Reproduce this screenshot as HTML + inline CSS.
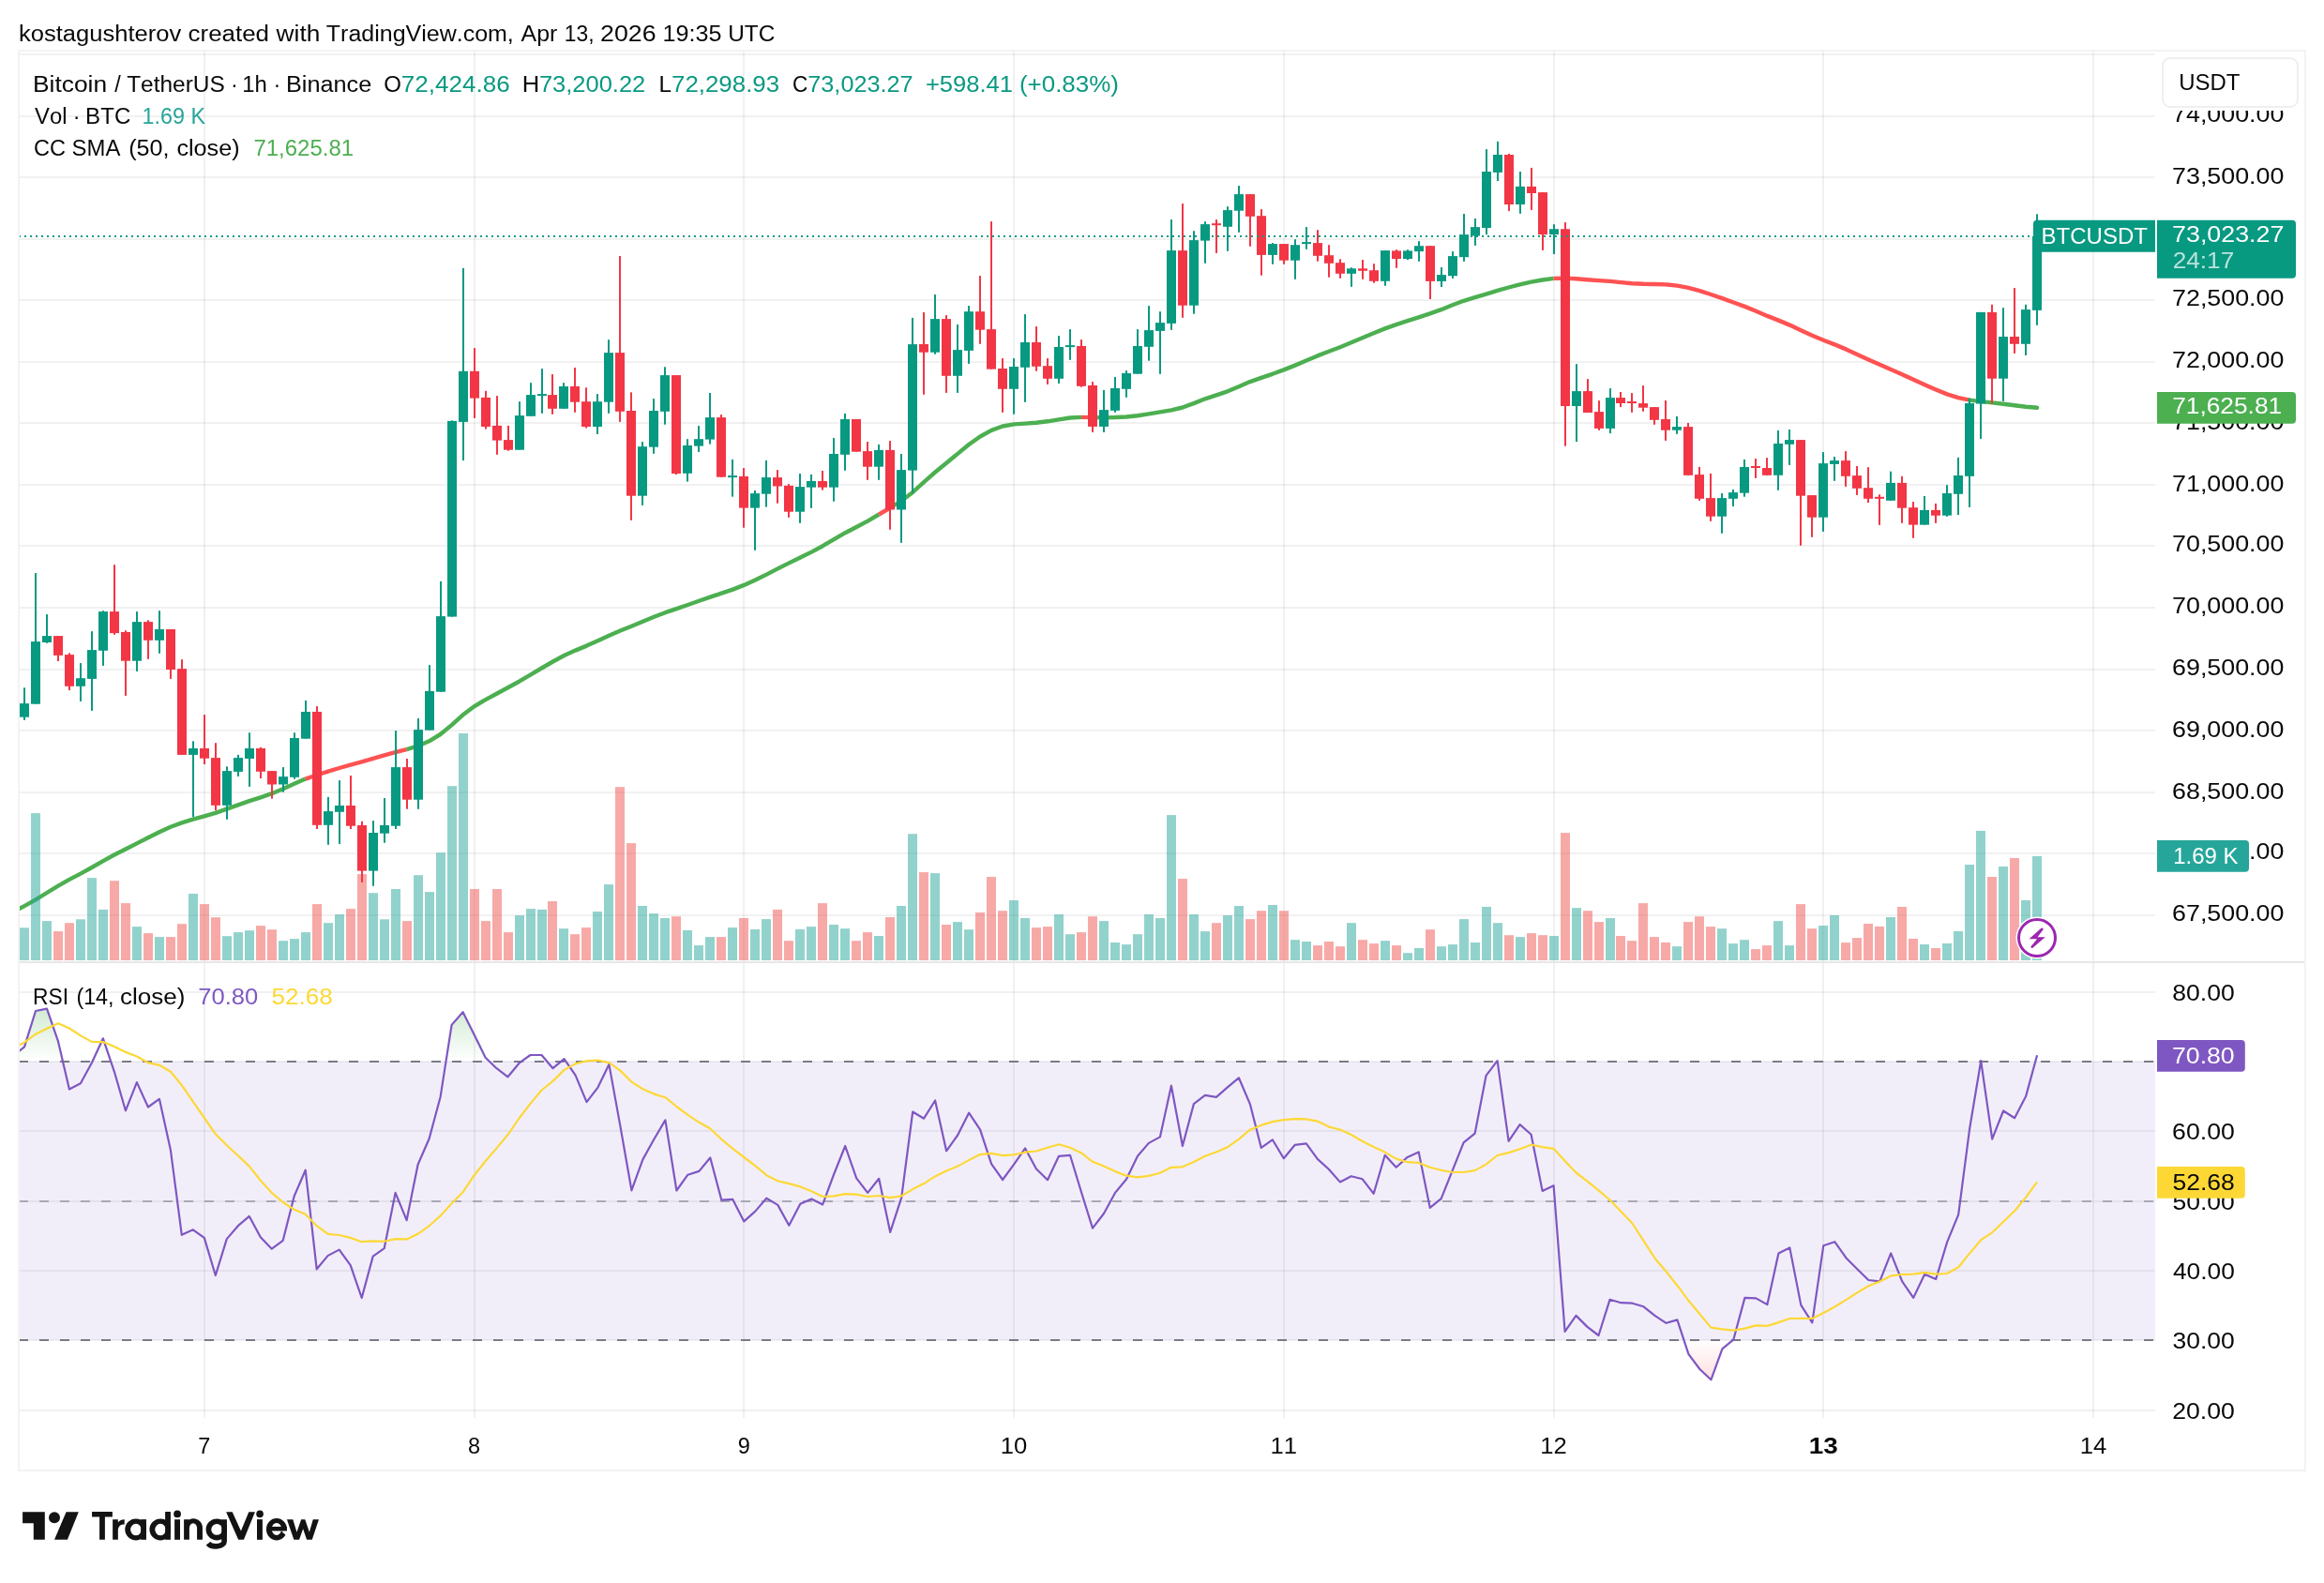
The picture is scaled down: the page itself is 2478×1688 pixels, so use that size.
<!DOCTYPE html><html><head><meta charset="utf-8"><title>BTCUSDT chart</title><style>html,body{margin:0;padding:0;background:#fff}body{width:2478px;height:1688px;overflow:hidden}</style></head><body><div style="will-change:transform;width:2478px;height:1688px"><svg width="2478" height="1688" viewBox="0 0 2478 1688" style="display:block">
<defs>
<linearGradient id="gob" gradientUnits="userSpaceOnUse" x1="0" y1="909.4" x2="0" y2="1132"><stop offset="0" stop-color="#4caf50" stop-opacity="1"/><stop offset="1" stop-color="#4caf50" stop-opacity="0"/></linearGradient>
<linearGradient id="gos" gradientUnits="userSpaceOnUse" x1="0" y1="1429" x2="0" y2="1652"><stop offset="0" stop-color="#ff5252" stop-opacity="0"/><stop offset="1" stop-color="#ff5252" stop-opacity="1"/></linearGradient>
<clipPath id="cpMain"><rect x="20" y="55" width="2278" height="970"/></clipPath>
<clipPath id="cpRsi"><rect x="20" y="1027" width="2278" height="485"/></clipPath>
<clipPath id="cpOB"><rect x="20" y="1027" width="2278" height="105"/></clipPath>
<clipPath id="cpOS"><rect x="20" y="1429" width="2278" height="83"/></clipPath>
</defs>
<rect width="2478" height="1688" fill="#fff"/>
<rect x="20" y="57" width="2278" height="2" fill="rgba(42,46,57,0.065)"/>
<rect x="20" y="123" width="2278" height="2" fill="rgba(42,46,57,0.065)"/>
<rect x="20" y="188" width="2278" height="2" fill="rgba(42,46,57,0.065)"/>
<rect x="20" y="254" width="2278" height="2" fill="rgba(42,46,57,0.065)"/>
<rect x="20" y="319" width="2278" height="2" fill="rgba(42,46,57,0.065)"/>
<rect x="20" y="385" width="2278" height="2" fill="rgba(42,46,57,0.065)"/>
<rect x="20" y="450" width="2278" height="2" fill="rgba(42,46,57,0.065)"/>
<rect x="20" y="516" width="2278" height="2" fill="rgba(42,46,57,0.065)"/>
<rect x="20" y="581" width="2278" height="2" fill="rgba(42,46,57,0.065)"/>
<rect x="20" y="647" width="2278" height="2" fill="rgba(42,46,57,0.065)"/>
<rect x="20" y="713" width="2278" height="2" fill="rgba(42,46,57,0.065)"/>
<rect x="20" y="778" width="2278" height="2" fill="rgba(42,46,57,0.065)"/>
<rect x="20" y="844" width="2278" height="2" fill="rgba(42,46,57,0.065)"/>
<rect x="20" y="909" width="2278" height="2" fill="rgba(42,46,57,0.065)"/>
<rect x="20" y="975" width="2278" height="2" fill="rgba(42,46,57,0.065)"/>
<rect x="20" y="1132" width="2278" height="297" fill="rgba(126,87,194,0.1)"/>
<rect x="20" y="1057" width="2278" height="2" fill="rgba(42,46,57,0.065)"/>
<rect x="20" y="1131" width="2278" height="2" fill="rgba(42,46,57,0.065)"/>
<rect x="20" y="1205" width="2278" height="2" fill="rgba(42,46,57,0.065)"/>
<rect x="20" y="1280" width="2278" height="2" fill="rgba(42,46,57,0.065)"/>
<rect x="20" y="1354" width="2278" height="2" fill="rgba(42,46,57,0.065)"/>
<rect x="20" y="1428" width="2278" height="2" fill="rgba(42,46,57,0.065)"/>
<rect x="20" y="1503" width="2278" height="2" fill="rgba(42,46,57,0.065)"/>
<rect x="217" y="55" width="2" height="970" fill="rgba(42,46,57,0.065)"/>
<rect x="217" y="1027" width="2" height="485" fill="rgba(42,46,57,0.065)"/>
<rect x="505" y="55" width="2" height="970" fill="rgba(42,46,57,0.065)"/>
<rect x="505" y="1027" width="2" height="485" fill="rgba(42,46,57,0.065)"/>
<rect x="792" y="55" width="2" height="970" fill="rgba(42,46,57,0.065)"/>
<rect x="792" y="1027" width="2" height="485" fill="rgba(42,46,57,0.065)"/>
<rect x="1080" y="55" width="2" height="970" fill="rgba(42,46,57,0.065)"/>
<rect x="1080" y="1027" width="2" height="485" fill="rgba(42,46,57,0.065)"/>
<rect x="1368" y="55" width="2" height="970" fill="rgba(42,46,57,0.065)"/>
<rect x="1368" y="1027" width="2" height="485" fill="rgba(42,46,57,0.065)"/>
<rect x="1656" y="55" width="2" height="970" fill="rgba(42,46,57,0.065)"/>
<rect x="1656" y="1027" width="2" height="485" fill="rgba(42,46,57,0.065)"/>
<rect x="1943" y="55" width="2" height="970" fill="rgba(42,46,57,0.065)"/>
<rect x="1943" y="1027" width="2" height="485" fill="rgba(42,46,57,0.065)"/>
<rect x="2231" y="55" width="2" height="970" fill="rgba(42,46,57,0.065)"/>
<rect x="2231" y="1027" width="2" height="485" fill="rgba(42,46,57,0.065)"/>
<g clip-path="url(#cpMain)">
<path d="M14.0,972.5 L26.0,966.1 L38.0,959.4 L50.0,952.0 L62.0,944.6 L73.9,937.9 L85.9,931.6 L97.9,925.0 L109.9,918.1 L121.9,911.5 L133.9,905.5 L145.9,899.4 L157.9,893.2 L169.9,887.2 L181.9,881.8 L193.8,877.4 L205.8,873.7 L217.8,870.4 L229.8,866.9 L241.8,862.7 L253.8,858.4 L265.8,854.2 L277.8,850.3 L289.8,846.2 L301.7,841.3 L313.7,835.8 L325.7,830.6" fill="none" stroke="#4caf50" stroke-width="4.4" stroke-linejoin="round" stroke-linecap="butt"/>
<path d="M325.7,830.6 L337.7,826.5 L349.7,822.7 L361.7,819.0 L373.7,815.6 L385.7,812.3 L397.7,808.9 L409.7,805.4 L421.6,802.2 L433.6,799.1" fill="none" stroke="#ff5252" stroke-width="4.4" stroke-linejoin="round" stroke-linecap="butt"/>
<path d="M433.6,799.1 L445.6,795.4 L457.6,790.3 L469.6,783.0 L481.6,773.1 L493.6,762.3 L505.6,753.3 L517.6,746.1 L529.5,739.7 L541.5,733.3 L553.5,726.7 L565.5,719.7 L577.5,712.5 L589.5,705.5 L601.5,699.0 L613.5,693.6 L625.5,688.6 L637.5,683.2 L649.4,677.7 L661.4,672.5 L673.4,667.7 L685.4,662.8 L697.4,657.8 L709.4,653.2 L721.4,649.1 L733.4,645.0 L745.4,640.7 L757.3,636.6 L769.3,632.7 L781.3,628.6 L793.3,623.9 L805.3,618.5 L817.3,612.6 L829.3,606.4 L841.3,600.4 L853.3,594.6 L865.3,588.6 L877.2,582.2 L889.2,575.1 L901.2,568.2 L913.2,562.0 L925.2,555.6 L937.2,548.5" fill="none" stroke="#4caf50" stroke-width="4.4" stroke-linejoin="round" stroke-linecap="butt"/>
<path d="M937.2,548.5 L949.2,541.5" fill="none" stroke="#ff5252" stroke-width="4.4" stroke-linejoin="round" stroke-linecap="butt"/>
<path d="M949.2,541.5 L961.2,534.0 L973.2,524.9 L985.1,514.2 L997.1,503.5 L1009.1,493.7 L1021.1,483.9 L1033.1,474.0 L1045.1,465.5 L1057.1,458.9 L1069.1,454.5 L1081.1,452.4 L1093.1,451.6 L1105.0,450.7 L1117.0,449.3 L1129.0,447.3 L1141.0,445.5 L1153.0,444.9" fill="none" stroke="#4caf50" stroke-width="4.4" stroke-linejoin="round" stroke-linecap="butt"/>
<path d="M1153.0,444.9 L1165.0,445.1" fill="none" stroke="#ff5252" stroke-width="4.4" stroke-linejoin="round" stroke-linecap="butt"/>
<path d="M1165.0,445.1 L1177.0,445.2 L1189.0,445.0 L1201.0,444.5 L1213.0,443.2 L1224.9,441.4 L1236.9,439.4 L1248.9,437.3 L1260.9,434.5 L1272.9,430.1 L1284.9,425.3 L1296.9,421.3 L1308.9,417.3 L1320.9,412.2 L1332.8,407.1 L1344.8,402.9 L1356.8,398.8 L1368.8,394.4 L1380.8,389.6 L1392.8,384.5 L1404.8,379.4 L1416.8,374.8 L1428.8,370.2 L1440.8,365.3 L1452.7,360.2 L1464.7,355.2 L1476.7,350.4 L1488.7,346.1 L1500.7,342.2 L1512.7,338.3 L1524.7,334.4 L1536.7,330.2 L1548.7,325.3 L1560.6,320.8 L1572.6,317.2 L1584.6,313.6 L1596.6,309.9 L1608.6,306.5 L1620.6,303.3 L1632.6,300.7 L1644.6,298.5 L1656.6,296.9" fill="none" stroke="#4caf50" stroke-width="4.4" stroke-linejoin="round" stroke-linecap="butt"/>
<path d="M1656.6,296.9 L1668.6,296.6 L1680.5,297.2 L1692.5,298.2 L1704.5,299.1 L1716.5,299.9 L1728.5,301.1 L1740.5,302.3 L1752.5,302.8 L1764.5,303.0 L1776.5,303.4 L1788.4,304.6 L1800.4,306.8 L1812.4,310.1 L1824.4,314.0 L1836.4,318.2 L1848.4,322.5 L1860.4,326.9 L1872.4,331.8 L1884.4,336.9 L1896.4,341.6 L1908.3,346.6 L1920.3,352.3 L1932.3,357.8 L1944.3,362.7 L1956.3,367.4 L1968.3,372.4 L1980.3,377.9 L1992.3,383.4 L2004.3,388.8 L2016.2,394.0 L2028.2,399.3 L2040.2,404.8 L2052.2,410.3 L2064.2,415.5 L2076.2,420.4 L2088.2,424.2 L2100.2,426.6" fill="none" stroke="#ff5252" stroke-width="4.4" stroke-linejoin="round" stroke-linecap="butt"/>
<path d="M2100.2,426.6 L2112.2,428.1 L2124.2,429.4 L2136.1,430.8 L2148.1,432.3 L2160.1,433.7 L2172.1,434.7" fill="none" stroke="#4caf50" stroke-width="4.4" stroke-linejoin="round" stroke-linecap="round"/>
<rect x="21" y="989.3" width="10" height="34.7" fill="rgba(38,166,154,0.5)"/>
<rect x="33" y="867.1" width="10" height="156.9" fill="rgba(38,166,154,0.5)"/>
<rect x="45" y="982.1" width="10" height="41.9" fill="rgba(38,166,154,0.5)"/>
<rect x="57" y="993.1" width="10" height="30.9" fill="rgba(239,83,80,0.5)"/>
<rect x="69" y="984.2" width="10" height="39.8" fill="rgba(239,83,80,0.5)"/>
<rect x="81" y="980.3" width="10" height="43.7" fill="rgba(38,166,154,0.5)"/>
<rect x="93" y="936.1" width="10" height="87.9" fill="rgba(38,166,154,0.5)"/>
<rect x="105" y="969.9" width="10" height="54.1" fill="rgba(38,166,154,0.5)"/>
<rect x="117" y="939.2" width="10" height="84.8" fill="rgba(239,83,80,0.5)"/>
<rect x="129" y="963.1" width="10" height="60.9" fill="rgba(239,83,80,0.5)"/>
<rect x="141" y="988.1" width="10" height="35.9" fill="rgba(38,166,154,0.5)"/>
<rect x="153" y="995.1" width="10" height="28.9" fill="rgba(239,83,80,0.5)"/>
<rect x="165" y="999.1" width="10" height="24.9" fill="rgba(38,166,154,0.5)"/>
<rect x="177" y="999.1" width="10" height="24.9" fill="rgba(239,83,80,0.5)"/>
<rect x="189" y="985.2" width="10" height="38.8" fill="rgba(239,83,80,0.5)"/>
<rect x="201" y="953.0" width="10" height="71.0" fill="rgba(38,166,154,0.5)"/>
<rect x="213" y="964.1" width="10" height="59.9" fill="rgba(239,83,80,0.5)"/>
<rect x="225" y="978.2" width="10" height="45.8" fill="rgba(239,83,80,0.5)"/>
<rect x="237" y="998.2" width="10" height="25.8" fill="rgba(38,166,154,0.5)"/>
<rect x="249" y="994.1" width="10" height="29.9" fill="rgba(38,166,154,0.5)"/>
<rect x="261" y="992.2" width="10" height="31.8" fill="rgba(38,166,154,0.5)"/>
<rect x="273" y="987.1" width="10" height="36.9" fill="rgba(239,83,80,0.5)"/>
<rect x="285" y="991.2" width="10" height="32.8" fill="rgba(239,83,80,0.5)"/>
<rect x="297" y="1003.2" width="10" height="20.8" fill="rgba(38,166,154,0.5)"/>
<rect x="309" y="1001.1" width="10" height="22.9" fill="rgba(38,166,154,0.5)"/>
<rect x="321" y="994.1" width="10" height="29.9" fill="rgba(38,166,154,0.5)"/>
<rect x="333" y="964.1" width="10" height="59.9" fill="rgba(239,83,80,0.5)"/>
<rect x="345" y="984.2" width="10" height="39.8" fill="rgba(38,166,154,0.5)"/>
<rect x="357" y="975.1" width="10" height="48.9" fill="rgba(38,166,154,0.5)"/>
<rect x="369" y="969.1" width="10" height="54.9" fill="rgba(239,83,80,0.5)"/>
<rect x="381" y="932.1" width="10" height="91.9" fill="rgba(239,83,80,0.5)"/>
<rect x="393" y="952.2" width="10" height="71.8" fill="rgba(38,166,154,0.5)"/>
<rect x="405" y="980.3" width="10" height="43.7" fill="rgba(38,166,154,0.5)"/>
<rect x="417" y="948.0" width="10" height="76.0" fill="rgba(38,166,154,0.5)"/>
<rect x="429" y="982.1" width="10" height="41.9" fill="rgba(239,83,80,0.5)"/>
<rect x="441" y="933.2" width="10" height="90.8" fill="rgba(38,166,154,0.5)"/>
<rect x="453" y="951.1" width="10" height="72.9" fill="rgba(38,166,154,0.5)"/>
<rect x="465" y="909.2" width="10" height="114.8" fill="rgba(38,166,154,0.5)"/>
<rect x="477" y="838.2" width="10" height="185.8" fill="rgba(38,166,154,0.5)"/>
<rect x="489" y="782.0" width="10" height="242.0" fill="rgba(38,166,154,0.5)"/>
<rect x="501" y="948.0" width="10" height="76.0" fill="rgba(239,83,80,0.5)"/>
<rect x="513" y="982.1" width="10" height="41.9" fill="rgba(239,83,80,0.5)"/>
<rect x="525" y="948.0" width="10" height="76.0" fill="rgba(239,83,80,0.5)"/>
<rect x="537" y="994.1" width="10" height="29.9" fill="rgba(239,83,80,0.5)"/>
<rect x="549" y="976.1" width="10" height="47.9" fill="rgba(38,166,154,0.5)"/>
<rect x="561" y="969.1" width="10" height="54.9" fill="rgba(38,166,154,0.5)"/>
<rect x="573" y="969.9" width="10" height="54.1" fill="rgba(38,166,154,0.5)"/>
<rect x="584" y="961.0" width="10" height="63.0" fill="rgba(239,83,80,0.5)"/>
<rect x="596" y="990.2" width="10" height="33.8" fill="rgba(38,166,154,0.5)"/>
<rect x="608" y="996.2" width="10" height="27.8" fill="rgba(239,83,80,0.5)"/>
<rect x="620" y="989.1" width="10" height="34.9" fill="rgba(239,83,80,0.5)"/>
<rect x="632" y="972.0" width="10" height="52.0" fill="rgba(38,166,154,0.5)"/>
<rect x="644" y="943.1" width="10" height="80.9" fill="rgba(38,166,154,0.5)"/>
<rect x="656" y="839.2" width="10" height="184.8" fill="rgba(239,83,80,0.5)"/>
<rect x="668" y="899.1" width="10" height="124.9" fill="rgba(239,83,80,0.5)"/>
<rect x="680" y="966.0" width="10" height="58.0" fill="rgba(38,166,154,0.5)"/>
<rect x="692" y="974.1" width="10" height="49.9" fill="rgba(38,166,154,0.5)"/>
<rect x="704" y="979.0" width="10" height="45.0" fill="rgba(38,166,154,0.5)"/>
<rect x="716" y="977.2" width="10" height="46.8" fill="rgba(239,83,80,0.5)"/>
<rect x="728" y="992.0" width="10" height="32.0" fill="rgba(38,166,154,0.5)"/>
<rect x="740" y="1008.1" width="10" height="15.9" fill="rgba(38,166,154,0.5)"/>
<rect x="752" y="999.1" width="10" height="24.9" fill="rgba(38,166,154,0.5)"/>
<rect x="764" y="999.1" width="10" height="24.9" fill="rgba(239,83,80,0.5)"/>
<rect x="776" y="989.1" width="10" height="34.9" fill="rgba(38,166,154,0.5)"/>
<rect x="788" y="979.0" width="10" height="45.0" fill="rgba(239,83,80,0.5)"/>
<rect x="800" y="991.0" width="10" height="33.0" fill="rgba(38,166,154,0.5)"/>
<rect x="812" y="980.1" width="10" height="43.9" fill="rgba(38,166,154,0.5)"/>
<rect x="824" y="969.9" width="10" height="54.1" fill="rgba(239,83,80,0.5)"/>
<rect x="836" y="1003.2" width="10" height="20.8" fill="rgba(239,83,80,0.5)"/>
<rect x="848" y="991.0" width="10" height="33.0" fill="rgba(38,166,154,0.5)"/>
<rect x="860" y="988.1" width="10" height="35.9" fill="rgba(38,166,154,0.5)"/>
<rect x="872" y="963.1" width="10" height="60.9" fill="rgba(239,83,80,0.5)"/>
<rect x="884" y="986.0" width="10" height="38.0" fill="rgba(38,166,154,0.5)"/>
<rect x="896" y="990.2" width="10" height="33.8" fill="rgba(38,166,154,0.5)"/>
<rect x="908" y="1003.2" width="10" height="20.8" fill="rgba(239,83,80,0.5)"/>
<rect x="920" y="994.1" width="10" height="29.9" fill="rgba(239,83,80,0.5)"/>
<rect x="932" y="998.0" width="10" height="26.0" fill="rgba(38,166,154,0.5)"/>
<rect x="944" y="978.0" width="10" height="46.0" fill="rgba(239,83,80,0.5)"/>
<rect x="956" y="966.0" width="10" height="58.0" fill="rgba(38,166,154,0.5)"/>
<rect x="968" y="889.2" width="10" height="134.8" fill="rgba(38,166,154,0.5)"/>
<rect x="980" y="930.1" width="10" height="93.9" fill="rgba(239,83,80,0.5)"/>
<rect x="992" y="931.1" width="10" height="92.9" fill="rgba(38,166,154,0.5)"/>
<rect x="1004" y="986.0" width="10" height="38.0" fill="rgba(239,83,80,0.5)"/>
<rect x="1016" y="983.1" width="10" height="40.9" fill="rgba(38,166,154,0.5)"/>
<rect x="1028" y="991.2" width="10" height="32.8" fill="rgba(38,166,154,0.5)"/>
<rect x="1040" y="973.0" width="10" height="51.0" fill="rgba(239,83,80,0.5)"/>
<rect x="1052" y="935.0" width="10" height="89.0" fill="rgba(239,83,80,0.5)"/>
<rect x="1064" y="971.2" width="10" height="52.8" fill="rgba(239,83,80,0.5)"/>
<rect x="1076" y="960.0" width="10" height="64.0" fill="rgba(38,166,154,0.5)"/>
<rect x="1088" y="979.0" width="10" height="45.0" fill="rgba(38,166,154,0.5)"/>
<rect x="1100" y="989.1" width="10" height="34.9" fill="rgba(239,83,80,0.5)"/>
<rect x="1112" y="988.1" width="10" height="35.9" fill="rgba(239,83,80,0.5)"/>
<rect x="1124" y="975.1" width="10" height="48.9" fill="rgba(38,166,154,0.5)"/>
<rect x="1136" y="996.2" width="10" height="27.8" fill="rgba(38,166,154,0.5)"/>
<rect x="1148" y="994.1" width="10" height="29.9" fill="rgba(239,83,80,0.5)"/>
<rect x="1160" y="977.2" width="10" height="46.8" fill="rgba(239,83,80,0.5)"/>
<rect x="1172" y="982.1" width="10" height="41.9" fill="rgba(38,166,154,0.5)"/>
<rect x="1184" y="1005.0" width="10" height="19.0" fill="rgba(38,166,154,0.5)"/>
<rect x="1196" y="1007.1" width="10" height="16.9" fill="rgba(38,166,154,0.5)"/>
<rect x="1208" y="996.2" width="10" height="27.8" fill="rgba(38,166,154,0.5)"/>
<rect x="1220" y="975.1" width="10" height="48.9" fill="rgba(38,166,154,0.5)"/>
<rect x="1232" y="979.0" width="10" height="45.0" fill="rgba(38,166,154,0.5)"/>
<rect x="1244" y="869.1" width="10" height="154.9" fill="rgba(38,166,154,0.5)"/>
<rect x="1256" y="937.1" width="10" height="86.9" fill="rgba(239,83,80,0.5)"/>
<rect x="1268" y="975.1" width="10" height="48.9" fill="rgba(38,166,154,0.5)"/>
<rect x="1280" y="993.1" width="10" height="30.9" fill="rgba(38,166,154,0.5)"/>
<rect x="1292" y="984.2" width="10" height="39.8" fill="rgba(239,83,80,0.5)"/>
<rect x="1304" y="976.1" width="10" height="47.9" fill="rgba(38,166,154,0.5)"/>
<rect x="1316" y="966.0" width="10" height="58.0" fill="rgba(38,166,154,0.5)"/>
<rect x="1328" y="980.1" width="10" height="43.9" fill="rgba(239,83,80,0.5)"/>
<rect x="1340" y="971.2" width="10" height="52.8" fill="rgba(239,83,80,0.5)"/>
<rect x="1352" y="965.0" width="10" height="59.0" fill="rgba(38,166,154,0.5)"/>
<rect x="1364" y="971.2" width="10" height="52.8" fill="rgba(239,83,80,0.5)"/>
<rect x="1376" y="1002.2" width="10" height="21.8" fill="rgba(38,166,154,0.5)"/>
<rect x="1388" y="1004.0" width="10" height="20.0" fill="rgba(38,166,154,0.5)"/>
<rect x="1400" y="1008.1" width="10" height="15.9" fill="rgba(239,83,80,0.5)"/>
<rect x="1412" y="1004.0" width="10" height="20.0" fill="rgba(239,83,80,0.5)"/>
<rect x="1424" y="1009.2" width="10" height="14.8" fill="rgba(239,83,80,0.5)"/>
<rect x="1436" y="984.2" width="10" height="39.8" fill="rgba(38,166,154,0.5)"/>
<rect x="1448" y="1002.2" width="10" height="21.8" fill="rgba(239,83,80,0.5)"/>
<rect x="1460" y="1006.1" width="10" height="17.9" fill="rgba(239,83,80,0.5)"/>
<rect x="1472" y="1003.2" width="10" height="20.8" fill="rgba(38,166,154,0.5)"/>
<rect x="1484" y="1008.1" width="10" height="15.9" fill="rgba(239,83,80,0.5)"/>
<rect x="1496" y="1016.2" width="10" height="7.8" fill="rgba(38,166,154,0.5)"/>
<rect x="1508" y="1011.0" width="10" height="13.0" fill="rgba(38,166,154,0.5)"/>
<rect x="1520" y="991.2" width="10" height="32.8" fill="rgba(239,83,80,0.5)"/>
<rect x="1532" y="1009.2" width="10" height="14.8" fill="rgba(38,166,154,0.5)"/>
<rect x="1544" y="1007.1" width="10" height="16.9" fill="rgba(38,166,154,0.5)"/>
<rect x="1556" y="980.1" width="10" height="43.9" fill="rgba(38,166,154,0.5)"/>
<rect x="1568" y="1005.0" width="10" height="19.0" fill="rgba(38,166,154,0.5)"/>
<rect x="1580" y="967.0" width="10" height="57.0" fill="rgba(38,166,154,0.5)"/>
<rect x="1592" y="984.2" width="10" height="39.8" fill="rgba(38,166,154,0.5)"/>
<rect x="1604" y="997.2" width="10" height="26.8" fill="rgba(239,83,80,0.5)"/>
<rect x="1616" y="999.1" width="10" height="24.9" fill="rgba(38,166,154,0.5)"/>
<rect x="1628" y="995.1" width="10" height="28.9" fill="rgba(239,83,80,0.5)"/>
<rect x="1640" y="997.2" width="10" height="26.8" fill="rgba(239,83,80,0.5)"/>
<rect x="1652" y="998.0" width="10" height="26.0" fill="rgba(38,166,154,0.5)"/>
<rect x="1664" y="888.1" width="10" height="135.9" fill="rgba(239,83,80,0.5)"/>
<rect x="1676" y="968.1" width="10" height="55.9" fill="rgba(38,166,154,0.5)"/>
<rect x="1688" y="971.2" width="10" height="52.8" fill="rgba(239,83,80,0.5)"/>
<rect x="1700" y="983.1" width="10" height="40.9" fill="rgba(239,83,80,0.5)"/>
<rect x="1712" y="979.0" width="10" height="45.0" fill="rgba(38,166,154,0.5)"/>
<rect x="1723" y="998.0" width="10" height="26.0" fill="rgba(239,83,80,0.5)"/>
<rect x="1735" y="1003.2" width="10" height="20.8" fill="rgba(239,83,80,0.5)"/>
<rect x="1747" y="963.1" width="10" height="60.9" fill="rgba(239,83,80,0.5)"/>
<rect x="1759" y="999.1" width="10" height="24.9" fill="rgba(239,83,80,0.5)"/>
<rect x="1771" y="1005.0" width="10" height="19.0" fill="rgba(239,83,80,0.5)"/>
<rect x="1783" y="1009.2" width="10" height="14.8" fill="rgba(38,166,154,0.5)"/>
<rect x="1795" y="983.1" width="10" height="40.9" fill="rgba(239,83,80,0.5)"/>
<rect x="1807" y="977.2" width="10" height="46.8" fill="rgba(239,83,80,0.5)"/>
<rect x="1819" y="988.1" width="10" height="35.9" fill="rgba(239,83,80,0.5)"/>
<rect x="1831" y="990.2" width="10" height="33.8" fill="rgba(38,166,154,0.5)"/>
<rect x="1843" y="1006.1" width="10" height="17.9" fill="rgba(38,166,154,0.5)"/>
<rect x="1855" y="1002.2" width="10" height="21.8" fill="rgba(38,166,154,0.5)"/>
<rect x="1867" y="1012.1" width="10" height="11.9" fill="rgba(239,83,80,0.5)"/>
<rect x="1879" y="1008.1" width="10" height="15.9" fill="rgba(239,83,80,0.5)"/>
<rect x="1891" y="982.1" width="10" height="41.9" fill="rgba(38,166,154,0.5)"/>
<rect x="1903" y="1008.1" width="10" height="15.9" fill="rgba(38,166,154,0.5)"/>
<rect x="1915" y="964.1" width="10" height="59.9" fill="rgba(239,83,80,0.5)"/>
<rect x="1927" y="990.2" width="10" height="33.8" fill="rgba(239,83,80,0.5)"/>
<rect x="1939" y="987.0" width="10" height="37.0" fill="rgba(38,166,154,0.5)"/>
<rect x="1951" y="976.0" width="10" height="48.0" fill="rgba(38,166,154,0.5)"/>
<rect x="1963" y="1005.1" width="10" height="18.9" fill="rgba(239,83,80,0.5)"/>
<rect x="1975" y="1000.1" width="10" height="23.9" fill="rgba(239,83,80,0.5)"/>
<rect x="1987" y="985.0" width="10" height="39.0" fill="rgba(239,83,80,0.5)"/>
<rect x="1999" y="987.9" width="10" height="36.1" fill="rgba(239,83,80,0.5)"/>
<rect x="2011" y="978.0" width="10" height="46.0" fill="rgba(38,166,154,0.5)"/>
<rect x="2023" y="967.0" width="10" height="57.0" fill="rgba(239,83,80,0.5)"/>
<rect x="2035" y="1001.0" width="10" height="23.0" fill="rgba(239,83,80,0.5)"/>
<rect x="2047" y="1007.0" width="10" height="17.0" fill="rgba(38,166,154,0.5)"/>
<rect x="2059" y="1011.0" width="10" height="13.0" fill="rgba(239,83,80,0.5)"/>
<rect x="2071" y="1006.0" width="10" height="18.0" fill="rgba(38,166,154,0.5)"/>
<rect x="2083" y="993.0" width="10" height="31.0" fill="rgba(38,166,154,0.5)"/>
<rect x="2095" y="922.0" width="10" height="102.0" fill="rgba(38,166,154,0.5)"/>
<rect x="2107" y="885.9" width="10" height="138.1" fill="rgba(38,166,154,0.5)"/>
<rect x="2119" y="935.0" width="10" height="89.0" fill="rgba(239,83,80,0.5)"/>
<rect x="2131" y="924.0" width="10" height="100.0" fill="rgba(38,166,154,0.5)"/>
<rect x="2143" y="915.0" width="10" height="109.0" fill="rgba(239,83,80,0.5)"/>
<rect x="2155" y="960.0" width="10" height="64.0" fill="rgba(38,166,154,0.5)"/>
<rect x="2167" y="912.9" width="10" height="111.1" fill="rgba(38,166,154,0.5)"/>
<rect x="25" y="733.3" width="2" height="34.6" fill="#089981"/>
<rect x="21" y="750.1" width="10" height="14.6" fill="#089981"/>
<rect x="37" y="611.1" width="2" height="139.6" fill="#089981"/>
<rect x="33" y="684.1" width="10" height="66.6" fill="#089981"/>
<rect x="49" y="655.1" width="2" height="30.7" fill="#089981"/>
<rect x="45" y="678.1" width="10" height="6.9" fill="#089981"/>
<rect x="61" y="678.1" width="2" height="26.9" fill="#f23645"/>
<rect x="57" y="678.1" width="10" height="20.8" fill="#f23645"/>
<rect x="73" y="696.4" width="2" height="39.7" fill="#f23645"/>
<rect x="69" y="698.1" width="10" height="33.7" fill="#f23645"/>
<rect x="85" y="707.1" width="2" height="40.8" fill="#089981"/>
<rect x="81" y="723.2" width="10" height="8.6" fill="#089981"/>
<rect x="97" y="673.2" width="2" height="84.6" fill="#089981"/>
<rect x="93" y="693.1" width="10" height="30.8" fill="#089981"/>
<rect x="109" y="651.2" width="2" height="58.7" fill="#089981"/>
<rect x="105" y="652.1" width="10" height="41.7" fill="#089981"/>
<rect x="121" y="602.2" width="2" height="74.6" fill="#f23645"/>
<rect x="117" y="652.1" width="10" height="23.0" fill="#f23645"/>
<rect x="133" y="672.3" width="2" height="69.6" fill="#f23645"/>
<rect x="129" y="674.0" width="10" height="30.7" fill="#f23645"/>
<rect x="145" y="652.1" width="2" height="63.8" fill="#089981"/>
<rect x="141" y="663.1" width="10" height="41.6" fill="#089981"/>
<rect x="157" y="661.3" width="2" height="41.5" fill="#f23645"/>
<rect x="153" y="663.1" width="10" height="19.7" fill="#f23645"/>
<rect x="169" y="651.2" width="2" height="45.6" fill="#089981"/>
<rect x="165" y="671.0" width="10" height="11.8" fill="#089981"/>
<rect x="181" y="671.0" width="2" height="52.9" fill="#f23645"/>
<rect x="177" y="671.0" width="10" height="43.0" fill="#f23645"/>
<rect x="193" y="703.2" width="2" height="101.7" fill="#f23645"/>
<rect x="189" y="713.1" width="10" height="91.8" fill="#f23645"/>
<rect x="205" y="790.3" width="2" height="80.7" fill="#089981"/>
<rect x="201" y="798.0" width="10" height="6.9" fill="#089981"/>
<rect x="217" y="762.1" width="2" height="52.9" fill="#f23645"/>
<rect x="213" y="798.0" width="10" height="10.7" fill="#f23645"/>
<rect x="229" y="792.2" width="2" height="72.0" fill="#f23645"/>
<rect x="225" y="808.1" width="10" height="50.7" fill="#f23645"/>
<rect x="241" y="817.3" width="2" height="56.5" fill="#089981"/>
<rect x="237" y="822.1" width="10" height="36.7" fill="#089981"/>
<rect x="253" y="804.9" width="2" height="23.0" fill="#089981"/>
<rect x="249" y="808.1" width="10" height="14.8" fill="#089981"/>
<rect x="265" y="781.2" width="2" height="57.7" fill="#089981"/>
<rect x="261" y="798.0" width="10" height="11.0" fill="#089981"/>
<rect x="277" y="796.8" width="2" height="33.2" fill="#f23645"/>
<rect x="273" y="798.0" width="10" height="24.8" fill="#f23645"/>
<rect x="289" y="822.1" width="2" height="29.6" fill="#f23645"/>
<rect x="285" y="822.1" width="10" height="14.4" fill="#f23645"/>
<rect x="301" y="818.1" width="2" height="26.6" fill="#089981"/>
<rect x="297" y="828.1" width="10" height="8.4" fill="#089981"/>
<rect x="313" y="781.2" width="2" height="49.5" fill="#089981"/>
<rect x="309" y="787.0" width="10" height="41.8" fill="#089981"/>
<rect x="325" y="747.0" width="2" height="40.7" fill="#089981"/>
<rect x="321" y="759.0" width="10" height="28.7" fill="#089981"/>
<rect x="337" y="753.1" width="2" height="130.9" fill="#f23645"/>
<rect x="333" y="759.0" width="10" height="120.8" fill="#f23645"/>
<rect x="349" y="849.9" width="2" height="50.9" fill="#089981"/>
<rect x="345" y="865.1" width="10" height="14.7" fill="#089981"/>
<rect x="361" y="832.1" width="2" height="67.8" fill="#089981"/>
<rect x="357" y="859.0" width="10" height="6.8" fill="#089981"/>
<rect x="373" y="827.0" width="2" height="57.0" fill="#f23645"/>
<rect x="369" y="859.0" width="10" height="21.7" fill="#f23645"/>
<rect x="385" y="875.8" width="2" height="65.0" fill="#f23645"/>
<rect x="381" y="880.0" width="10" height="48.6" fill="#f23645"/>
<rect x="397" y="875.1" width="2" height="69.6" fill="#089981"/>
<rect x="393" y="888.0" width="10" height="40.6" fill="#089981"/>
<rect x="409" y="851.0" width="2" height="47.7" fill="#089981"/>
<rect x="405" y="880.0" width="10" height="8.7" fill="#089981"/>
<rect x="421" y="779.1" width="2" height="104.9" fill="#089981"/>
<rect x="417" y="818.1" width="10" height="62.6" fill="#089981"/>
<rect x="433" y="809.0" width="2" height="53.7" fill="#f23645"/>
<rect x="429" y="818.1" width="10" height="34.6" fill="#f23645"/>
<rect x="445" y="766.0" width="2" height="96.7" fill="#089981"/>
<rect x="441" y="778.1" width="10" height="74.6" fill="#089981"/>
<rect x="457" y="709.2" width="2" height="69.4" fill="#089981"/>
<rect x="453" y="737.0" width="10" height="41.6" fill="#089981"/>
<rect x="469" y="619.9" width="2" height="117.8" fill="#089981"/>
<rect x="465" y="657.1" width="10" height="80.6" fill="#089981"/>
<rect x="481" y="448.4" width="2" height="209.2" fill="#089981"/>
<rect x="477" y="448.9" width="10" height="208.7" fill="#089981"/>
<rect x="493" y="285.9" width="2" height="205.2" fill="#089981"/>
<rect x="489" y="395.8" width="10" height="54.1" fill="#089981"/>
<rect x="505" y="371.1" width="2" height="74.8" fill="#f23645"/>
<rect x="501" y="395.8" width="10" height="28.8" fill="#f23645"/>
<rect x="517" y="416.8" width="2" height="40.7" fill="#f23645"/>
<rect x="513" y="423.9" width="10" height="31.1" fill="#f23645"/>
<rect x="529" y="422.1" width="2" height="62.7" fill="#f23645"/>
<rect x="525" y="453.9" width="10" height="15.7" fill="#f23645"/>
<rect x="541" y="453.9" width="2" height="26.8" fill="#f23645"/>
<rect x="537" y="469.1" width="10" height="10.6" fill="#f23645"/>
<rect x="553" y="428.2" width="2" height="51.5" fill="#089981"/>
<rect x="549" y="443.1" width="10" height="36.6" fill="#089981"/>
<rect x="565" y="408.2" width="2" height="35.6" fill="#089981"/>
<rect x="561" y="421.1" width="10" height="22.7" fill="#089981"/>
<rect x="577" y="393.1" width="2" height="47.7" fill="#089981"/>
<rect x="573" y="420.1" width="10" height="2.0" fill="#089981"/>
<rect x="588" y="399.1" width="2" height="42.7" fill="#f23645"/>
<rect x="584" y="421.1" width="10" height="14.7" fill="#f23645"/>
<rect x="600" y="408.2" width="2" height="27.6" fill="#089981"/>
<rect x="596" y="412.0" width="10" height="23.8" fill="#089981"/>
<rect x="612" y="392.0" width="2" height="47.8" fill="#f23645"/>
<rect x="608" y="412.0" width="10" height="16.7" fill="#f23645"/>
<rect x="624" y="413.3" width="2" height="43.2" fill="#f23645"/>
<rect x="620" y="428.2" width="10" height="26.8" fill="#f23645"/>
<rect x="636" y="420.1" width="2" height="42.9" fill="#089981"/>
<rect x="632" y="428.2" width="10" height="26.8" fill="#089981"/>
<rect x="648" y="362.2" width="2" height="78.6" fill="#089981"/>
<rect x="644" y="376.1" width="10" height="52.6" fill="#089981"/>
<rect x="660" y="273.0" width="2" height="176.9" fill="#f23645"/>
<rect x="656" y="376.1" width="10" height="62.7" fill="#f23645"/>
<rect x="672" y="418.3" width="2" height="136.5" fill="#f23645"/>
<rect x="668" y="438.0" width="10" height="90.7" fill="#f23645"/>
<rect x="684" y="471.1" width="2" height="67.7" fill="#089981"/>
<rect x="680" y="476.2" width="10" height="52.5" fill="#089981"/>
<rect x="696" y="425.1" width="2" height="58.7" fill="#089981"/>
<rect x="692" y="438.0" width="10" height="38.7" fill="#089981"/>
<rect x="708" y="391.3" width="2" height="61.4" fill="#089981"/>
<rect x="704" y="400.1" width="10" height="38.7" fill="#089981"/>
<rect x="720" y="400.1" width="2" height="105.9" fill="#f23645"/>
<rect x="716" y="400.1" width="10" height="104.9" fill="#f23645"/>
<rect x="732" y="468.2" width="2" height="45.4" fill="#089981"/>
<rect x="728" y="475.0" width="10" height="29.8" fill="#089981"/>
<rect x="744" y="454.1" width="2" height="27.8" fill="#089981"/>
<rect x="740" y="468.2" width="10" height="7.4" fill="#089981"/>
<rect x="756" y="419.0" width="2" height="54.6" fill="#089981"/>
<rect x="752" y="445.1" width="10" height="23.5" fill="#089981"/>
<rect x="768" y="442.1" width="2" height="66.6" fill="#f23645"/>
<rect x="764" y="445.1" width="10" height="63.6" fill="#f23645"/>
<rect x="780" y="489.9" width="2" height="39.7" fill="#089981"/>
<rect x="776" y="507.1" width="10" height="2.0" fill="#089981"/>
<rect x="792" y="499.1" width="2" height="63.6" fill="#f23645"/>
<rect x="788" y="507.9" width="10" height="33.7" fill="#f23645"/>
<rect x="804" y="523.0" width="2" height="63.8" fill="#089981"/>
<rect x="800" y="526.1" width="10" height="15.5" fill="#089981"/>
<rect x="816" y="490.9" width="2" height="49.7" fill="#089981"/>
<rect x="812" y="509.1" width="10" height="17.6" fill="#089981"/>
<rect x="828" y="501.1" width="2" height="35.6" fill="#f23645"/>
<rect x="824" y="509.1" width="10" height="9.4" fill="#f23645"/>
<rect x="840" y="516.1" width="2" height="35.7" fill="#f23645"/>
<rect x="836" y="517.9" width="10" height="27.8" fill="#f23645"/>
<rect x="852" y="505.0" width="2" height="52.8" fill="#089981"/>
<rect x="848" y="519.1" width="10" height="26.6" fill="#089981"/>
<rect x="864" y="505.9" width="2" height="35.9" fill="#089981"/>
<rect x="860" y="513.0" width="10" height="6.7" fill="#089981"/>
<rect x="876" y="502.0" width="2" height="20.6" fill="#f23645"/>
<rect x="872" y="513.0" width="10" height="6.7" fill="#f23645"/>
<rect x="888" y="467.0" width="2" height="67.7" fill="#089981"/>
<rect x="884" y="484.0" width="10" height="35.7" fill="#089981"/>
<rect x="900" y="440.9" width="2" height="60.9" fill="#089981"/>
<rect x="896" y="447.0" width="10" height="37.8" fill="#089981"/>
<rect x="912" y="447.0" width="2" height="34.7" fill="#f23645"/>
<rect x="908" y="447.0" width="10" height="34.7" fill="#f23645"/>
<rect x="924" y="471.1" width="2" height="40.7" fill="#f23645"/>
<rect x="920" y="481.1" width="10" height="16.6" fill="#f23645"/>
<rect x="936" y="474.0" width="2" height="37.8" fill="#089981"/>
<rect x="932" y="479.9" width="10" height="17.8" fill="#089981"/>
<rect x="948" y="470.1" width="2" height="94.6" fill="#f23645"/>
<rect x="944" y="479.9" width="10" height="63.6" fill="#f23645"/>
<rect x="960" y="484.0" width="2" height="94.8" fill="#089981"/>
<rect x="956" y="501.1" width="10" height="42.4" fill="#089981"/>
<rect x="972" y="338.9" width="2" height="186.6" fill="#089981"/>
<rect x="968" y="367.1" width="10" height="134.5" fill="#089981"/>
<rect x="984" y="333.0" width="2" height="87.7" fill="#f23645"/>
<rect x="980" y="367.0" width="10" height="8.7" fill="#f23645"/>
<rect x="996" y="314.1" width="2" height="63.6" fill="#089981"/>
<rect x="992" y="340.1" width="10" height="35.6" fill="#089981"/>
<rect x="1008" y="336.1" width="2" height="82.8" fill="#f23645"/>
<rect x="1004" y="340.1" width="10" height="60.7" fill="#f23645"/>
<rect x="1020" y="346.0" width="2" height="72.9" fill="#089981"/>
<rect x="1016" y="373.1" width="10" height="27.7" fill="#089981"/>
<rect x="1032" y="326.1" width="2" height="61.8" fill="#089981"/>
<rect x="1028" y="332.2" width="10" height="41.7" fill="#089981"/>
<rect x="1044" y="294.1" width="2" height="72.7" fill="#f23645"/>
<rect x="1040" y="332.2" width="10" height="19.5" fill="#f23645"/>
<rect x="1056" y="236.1" width="2" height="157.5" fill="#f23645"/>
<rect x="1052" y="351.1" width="10" height="42.5" fill="#f23645"/>
<rect x="1068" y="382.1" width="2" height="57.7" fill="#f23645"/>
<rect x="1064" y="393.0" width="10" height="21.8" fill="#f23645"/>
<rect x="1080" y="382.1" width="2" height="59.6" fill="#089981"/>
<rect x="1076" y="391.0" width="10" height="23.8" fill="#089981"/>
<rect x="1092" y="335.1" width="2" height="93.7" fill="#089981"/>
<rect x="1088" y="365.0" width="10" height="26.8" fill="#089981"/>
<rect x="1104" y="348.1" width="2" height="47.6" fill="#f23645"/>
<rect x="1100" y="365.0" width="10" height="25.8" fill="#f23645"/>
<rect x="1116" y="382.1" width="2" height="27.8" fill="#f23645"/>
<rect x="1112" y="390.2" width="10" height="13.6" fill="#f23645"/>
<rect x="1128" y="358.1" width="2" height="50.8" fill="#089981"/>
<rect x="1124" y="370.0" width="10" height="33.8" fill="#089981"/>
<rect x="1140" y="351.1" width="2" height="32.7" fill="#089981"/>
<rect x="1136" y="368.1" width="10" height="2.0" fill="#089981"/>
<rect x="1152" y="362.1" width="2" height="50.6" fill="#f23645"/>
<rect x="1148" y="369.0" width="10" height="42.8" fill="#f23645"/>
<rect x="1164" y="407.1" width="2" height="53.8" fill="#f23645"/>
<rect x="1160" y="411.0" width="10" height="43.9" fill="#f23645"/>
<rect x="1176" y="415.9" width="2" height="45.0" fill="#089981"/>
<rect x="1172" y="437.1" width="10" height="17.8" fill="#089981"/>
<rect x="1188" y="402.0" width="2" height="37.8" fill="#089981"/>
<rect x="1184" y="414.0" width="10" height="23.8" fill="#089981"/>
<rect x="1200" y="395.1" width="2" height="28.7" fill="#089981"/>
<rect x="1196" y="398.0" width="10" height="16.8" fill="#089981"/>
<rect x="1212" y="351.1" width="2" height="47.6" fill="#089981"/>
<rect x="1208" y="369.0" width="10" height="29.7" fill="#089981"/>
<rect x="1224" y="326.1" width="2" height="58.6" fill="#089981"/>
<rect x="1220" y="352.1" width="10" height="17.7" fill="#089981"/>
<rect x="1236" y="332.2" width="2" height="66.6" fill="#089981"/>
<rect x="1232" y="344.1" width="10" height="8.8" fill="#089981"/>
<rect x="1248" y="234.1" width="2" height="117.7" fill="#089981"/>
<rect x="1244" y="267.1" width="10" height="77.8" fill="#089981"/>
<rect x="1260" y="217.1" width="2" height="121.7" fill="#f23645"/>
<rect x="1256" y="267.1" width="10" height="58.6" fill="#f23645"/>
<rect x="1272" y="246.2" width="2" height="88.5" fill="#089981"/>
<rect x="1268" y="256.1" width="10" height="69.6" fill="#089981"/>
<rect x="1284" y="236.2" width="2" height="44.6" fill="#089981"/>
<rect x="1280" y="239.1" width="10" height="17.5" fill="#089981"/>
<rect x="1296" y="234.1" width="2" height="35.8" fill="#f23645"/>
<rect x="1292" y="238.2" width="10" height="2.0" fill="#f23645"/>
<rect x="1308" y="220.2" width="2" height="47.6" fill="#089981"/>
<rect x="1304" y="224.1" width="10" height="17.7" fill="#089981"/>
<rect x="1320" y="198.1" width="2" height="49.7" fill="#089981"/>
<rect x="1316" y="207.1" width="10" height="17.6" fill="#089981"/>
<rect x="1332" y="207.1" width="2" height="55.7" fill="#f23645"/>
<rect x="1328" y="207.1" width="10" height="23.7" fill="#f23645"/>
<rect x="1344" y="223.1" width="2" height="70.6" fill="#f23645"/>
<rect x="1340" y="230.2" width="10" height="41.7" fill="#f23645"/>
<rect x="1356" y="259.1" width="2" height="22.7" fill="#089981"/>
<rect x="1352" y="260.1" width="10" height="11.8" fill="#089981"/>
<rect x="1368" y="260.1" width="2" height="21.7" fill="#f23645"/>
<rect x="1364" y="260.1" width="10" height="17.6" fill="#f23645"/>
<rect x="1380" y="255.2" width="2" height="42.6" fill="#089981"/>
<rect x="1376" y="261.2" width="10" height="16.5" fill="#089981"/>
<rect x="1392" y="242.1" width="2" height="23.7" fill="#089981"/>
<rect x="1388" y="258.1" width="10" height="2.0" fill="#089981"/>
<rect x="1404" y="245.2" width="2" height="33.5" fill="#f23645"/>
<rect x="1400" y="259.1" width="10" height="13.7" fill="#f23645"/>
<rect x="1416" y="261.2" width="2" height="34.5" fill="#f23645"/>
<rect x="1412" y="272.2" width="10" height="8.6" fill="#f23645"/>
<rect x="1428" y="276.3" width="2" height="20.5" fill="#f23645"/>
<rect x="1424" y="280.2" width="10" height="11.6" fill="#f23645"/>
<rect x="1440" y="285.3" width="2" height="20.5" fill="#089981"/>
<rect x="1436" y="286.3" width="10" height="5.5" fill="#089981"/>
<rect x="1452" y="277.1" width="2" height="20.7" fill="#f23645"/>
<rect x="1448" y="286.3" width="10" height="2.5" fill="#f23645"/>
<rect x="1464" y="281.2" width="2" height="20.5" fill="#f23645"/>
<rect x="1460" y="288.2" width="10" height="11.6" fill="#f23645"/>
<rect x="1476" y="267.1" width="2" height="37.7" fill="#089981"/>
<rect x="1472" y="267.1" width="10" height="32.7" fill="#089981"/>
<rect x="1488" y="266.2" width="2" height="19.6" fill="#f23645"/>
<rect x="1484" y="267.4" width="10" height="8.6" fill="#f23645"/>
<rect x="1500" y="266.2" width="2" height="11.0" fill="#089981"/>
<rect x="1496" y="267.4" width="10" height="8.6" fill="#089981"/>
<rect x="1512" y="257.1" width="2" height="21.7" fill="#089981"/>
<rect x="1508" y="262.2" width="10" height="5.9" fill="#089981"/>
<rect x="1524" y="262.2" width="2" height="56.8" fill="#f23645"/>
<rect x="1520" y="262.2" width="10" height="37.7" fill="#f23645"/>
<rect x="1536" y="285.1" width="2" height="21.0" fill="#089981"/>
<rect x="1532" y="293.1" width="10" height="6.8" fill="#089981"/>
<rect x="1548" y="268.1" width="2" height="28.9" fill="#089981"/>
<rect x="1544" y="273.1" width="10" height="21.1" fill="#089981"/>
<rect x="1560" y="228.0" width="2" height="50.8" fill="#089981"/>
<rect x="1556" y="250.1" width="10" height="24.1" fill="#089981"/>
<rect x="1572" y="233.0" width="2" height="28.9" fill="#089981"/>
<rect x="1568" y="242.1" width="10" height="9.4" fill="#089981"/>
<rect x="1584" y="159.1" width="2" height="91.0" fill="#089981"/>
<rect x="1580" y="183.0" width="10" height="60.0" fill="#089981"/>
<rect x="1596" y="150.9" width="2" height="42.1" fill="#089981"/>
<rect x="1592" y="165.0" width="10" height="18.9" fill="#089981"/>
<rect x="1608" y="163.9" width="2" height="61.2" fill="#f23645"/>
<rect x="1604" y="165.0" width="10" height="53.0" fill="#f23645"/>
<rect x="1620" y="183.0" width="2" height="44.8" fill="#089981"/>
<rect x="1616" y="198.9" width="10" height="19.1" fill="#089981"/>
<rect x="1632" y="178.9" width="2" height="45.0" fill="#f23645"/>
<rect x="1628" y="198.9" width="10" height="7.1" fill="#f23645"/>
<rect x="1644" y="205.1" width="2" height="61.8" fill="#f23645"/>
<rect x="1640" y="205.1" width="10" height="45.0" fill="#f23645"/>
<rect x="1656" y="239.2" width="2" height="31.8" fill="#089981"/>
<rect x="1652" y="244.2" width="10" height="5.9" fill="#089981"/>
<rect x="1668" y="237.1" width="2" height="238.6" fill="#f23645"/>
<rect x="1664" y="244.2" width="10" height="188.8" fill="#f23645"/>
<rect x="1680" y="388.2" width="2" height="82.8" fill="#089981"/>
<rect x="1676" y="417.1" width="10" height="15.9" fill="#089981"/>
<rect x="1692" y="404.1" width="2" height="35.9" fill="#f23645"/>
<rect x="1688" y="417.1" width="10" height="22.9" fill="#f23645"/>
<rect x="1704" y="427.1" width="2" height="31.8" fill="#f23645"/>
<rect x="1700" y="439.1" width="10" height="17.8" fill="#f23645"/>
<rect x="1716" y="414.1" width="2" height="48.0" fill="#089981"/>
<rect x="1712" y="424.1" width="10" height="32.8" fill="#089981"/>
<rect x="1727" y="418.0" width="2" height="16.1" fill="#f23645"/>
<rect x="1723" y="424.1" width="10" height="5.9" fill="#f23645"/>
<rect x="1739" y="419.1" width="2" height="20.7" fill="#f23645"/>
<rect x="1735" y="428.0" width="10" height="2.0" fill="#f23645"/>
<rect x="1751" y="411.1" width="2" height="27.7" fill="#f23645"/>
<rect x="1747" y="430.1" width="10" height="4.6" fill="#f23645"/>
<rect x="1763" y="434.1" width="2" height="18.7" fill="#f23645"/>
<rect x="1759" y="434.1" width="10" height="13.7" fill="#f23645"/>
<rect x="1775" y="427.0" width="2" height="42.9" fill="#f23645"/>
<rect x="1771" y="447.0" width="10" height="11.7" fill="#f23645"/>
<rect x="1787" y="444.0" width="2" height="18.8" fill="#089981"/>
<rect x="1783" y="455.1" width="10" height="3.6" fill="#089981"/>
<rect x="1799" y="451.0" width="2" height="55.8" fill="#f23645"/>
<rect x="1795" y="455.1" width="10" height="51.7" fill="#f23645"/>
<rect x="1811" y="497.9" width="2" height="35.9" fill="#f23645"/>
<rect x="1807" y="506.1" width="10" height="25.7" fill="#f23645"/>
<rect x="1823" y="505.0" width="2" height="50.8" fill="#f23645"/>
<rect x="1819" y="531.1" width="10" height="19.6" fill="#f23645"/>
<rect x="1835" y="526.0" width="2" height="42.8" fill="#089981"/>
<rect x="1831" y="531.1" width="10" height="19.6" fill="#089981"/>
<rect x="1847" y="522.0" width="2" height="17.9" fill="#089981"/>
<rect x="1843" y="525.1" width="10" height="6.7" fill="#089981"/>
<rect x="1859" y="490.0" width="2" height="39.7" fill="#089981"/>
<rect x="1855" y="498.0" width="10" height="27.7" fill="#089981"/>
<rect x="1871" y="489.1" width="2" height="20.8" fill="#f23645"/>
<rect x="1867" y="497.0" width="10" height="2.0" fill="#f23645"/>
<rect x="1883" y="488.1" width="2" height="18.7" fill="#f23645"/>
<rect x="1879" y="499.0" width="10" height="7.8" fill="#f23645"/>
<rect x="1895" y="459.0" width="2" height="63.8" fill="#089981"/>
<rect x="1891" y="473.0" width="10" height="33.8" fill="#089981"/>
<rect x="1907" y="458.0" width="2" height="37.9" fill="#089981"/>
<rect x="1903" y="469.1" width="10" height="4.7" fill="#089981"/>
<rect x="1919" y="469.1" width="2" height="112.7" fill="#f23645"/>
<rect x="1915" y="469.1" width="10" height="59.6" fill="#f23645"/>
<rect x="1931" y="528.1" width="2" height="44.7" fill="#f23645"/>
<rect x="1927" y="528.1" width="10" height="23.6" fill="#f23645"/>
<rect x="1943" y="482.1" width="2" height="84.8" fill="#089981"/>
<rect x="1939" y="494.1" width="10" height="57.6" fill="#089981"/>
<rect x="1955" y="487.0" width="2" height="25.8" fill="#089981"/>
<rect x="1951" y="491.1" width="10" height="3.8" fill="#089981"/>
<rect x="1967" y="481.1" width="2" height="37.8" fill="#f23645"/>
<rect x="1963" y="491.1" width="10" height="16.7" fill="#f23645"/>
<rect x="1979" y="497.0" width="2" height="30.9" fill="#f23645"/>
<rect x="1975" y="507.1" width="10" height="13.7" fill="#f23645"/>
<rect x="1991" y="498.2" width="2" height="37.9" fill="#f23645"/>
<rect x="1987" y="520.2" width="10" height="11.6" fill="#f23645"/>
<rect x="2003" y="527.3" width="2" height="32.6" fill="#f23645"/>
<rect x="1999" y="529.8" width="10" height="2.0" fill="#f23645"/>
<rect x="2015" y="502.7" width="2" height="31.1" fill="#089981"/>
<rect x="2011" y="514.9" width="10" height="18.9" fill="#089981"/>
<rect x="2027" y="507.8" width="2" height="50.0" fill="#f23645"/>
<rect x="2023" y="514.9" width="10" height="26.8" fill="#f23645"/>
<rect x="2039" y="535.1" width="2" height="38.7" fill="#f23645"/>
<rect x="2035" y="541.2" width="10" height="18.4" fill="#f23645"/>
<rect x="2051" y="529.0" width="2" height="30.6" fill="#089981"/>
<rect x="2047" y="543.9" width="10" height="15.7" fill="#089981"/>
<rect x="2063" y="536.9" width="2" height="20.9" fill="#f23645"/>
<rect x="2059" y="543.9" width="10" height="5.8" fill="#f23645"/>
<rect x="2075" y="517.1" width="2" height="33.7" fill="#089981"/>
<rect x="2071" y="526.0" width="10" height="23.7" fill="#089981"/>
<rect x="2087" y="487.8" width="2" height="61.2" fill="#089981"/>
<rect x="2083" y="507.0" width="10" height="19.8" fill="#089981"/>
<rect x="2099" y="424.9" width="2" height="116.0" fill="#089981"/>
<rect x="2095" y="430.0" width="10" height="77.8" fill="#089981"/>
<rect x="2111" y="332.9" width="2" height="135.0" fill="#089981"/>
<rect x="2107" y="332.9" width="10" height="97.6" fill="#089981"/>
<rect x="2123" y="324.8" width="2" height="105.7" fill="#f23645"/>
<rect x="2119" y="332.9" width="10" height="70.8" fill="#f23645"/>
<rect x="2135" y="328.1" width="2" height="99.8" fill="#089981"/>
<rect x="2131" y="359.0" width="10" height="44.7" fill="#089981"/>
<rect x="2147" y="307.1" width="2" height="69.8" fill="#f23645"/>
<rect x="2143" y="359.0" width="10" height="7.8" fill="#f23645"/>
<rect x="2159" y="324.8" width="2" height="54.1" fill="#089981"/>
<rect x="2155" y="330.1" width="10" height="36.7" fill="#089981"/>
<rect x="2171" y="228.3" width="2" height="118.5" fill="#089981"/>
<rect x="2167" y="251.8" width="10" height="79.1" fill="#089981"/>
</g>
<g fill="#089981">
<path d="M20,251h2v2h-2zM26,251h2v2h-2zM32,251h2v2h-2zM38,251h2v2h-2zM44,251h2v2h-2zM50,251h2v2h-2zM56,251h2v2h-2zM62,251h2v2h-2zM68,251h2v2h-2zM74,251h2v2h-2zM80,251h2v2h-2zM86,251h2v2h-2zM92,251h2v2h-2zM98,251h2v2h-2zM104,251h2v2h-2zM110,251h2v2h-2zM116,251h2v2h-2zM122,251h2v2h-2zM128,251h2v2h-2zM134,251h2v2h-2zM140,251h2v2h-2zM146,251h2v2h-2zM152,251h2v2h-2zM158,251h2v2h-2zM164,251h2v2h-2zM170,251h2v2h-2zM176,251h2v2h-2zM182,251h2v2h-2zM188,251h2v2h-2zM194,251h2v2h-2zM200,251h2v2h-2zM206,251h2v2h-2zM212,251h2v2h-2zM218,251h2v2h-2zM224,251h2v2h-2zM230,251h2v2h-2zM236,251h2v2h-2zM242,251h2v2h-2zM248,251h2v2h-2zM254,251h2v2h-2zM260,251h2v2h-2zM266,251h2v2h-2zM272,251h2v2h-2zM278,251h2v2h-2zM284,251h2v2h-2zM290,251h2v2h-2zM296,251h2v2h-2zM302,251h2v2h-2zM308,251h2v2h-2zM314,251h2v2h-2zM320,251h2v2h-2zM326,251h2v2h-2zM332,251h2v2h-2zM338,251h2v2h-2zM344,251h2v2h-2zM350,251h2v2h-2zM356,251h2v2h-2zM362,251h2v2h-2zM368,251h2v2h-2zM374,251h2v2h-2zM380,251h2v2h-2zM386,251h2v2h-2zM392,251h2v2h-2zM398,251h2v2h-2zM404,251h2v2h-2zM410,251h2v2h-2zM416,251h2v2h-2zM422,251h2v2h-2zM428,251h2v2h-2zM434,251h2v2h-2zM440,251h2v2h-2zM446,251h2v2h-2zM452,251h2v2h-2zM458,251h2v2h-2zM464,251h2v2h-2zM470,251h2v2h-2zM476,251h2v2h-2zM482,251h2v2h-2zM488,251h2v2h-2zM494,251h2v2h-2zM500,251h2v2h-2zM506,251h2v2h-2zM512,251h2v2h-2zM518,251h2v2h-2zM524,251h2v2h-2zM530,251h2v2h-2zM536,251h2v2h-2zM542,251h2v2h-2zM548,251h2v2h-2zM554,251h2v2h-2zM560,251h2v2h-2zM566,251h2v2h-2zM572,251h2v2h-2zM578,251h2v2h-2zM584,251h2v2h-2zM590,251h2v2h-2zM596,251h2v2h-2zM602,251h2v2h-2zM608,251h2v2h-2zM614,251h2v2h-2zM620,251h2v2h-2zM626,251h2v2h-2zM632,251h2v2h-2zM638,251h2v2h-2zM644,251h2v2h-2zM650,251h2v2h-2zM656,251h2v2h-2zM662,251h2v2h-2zM668,251h2v2h-2zM674,251h2v2h-2zM680,251h2v2h-2zM686,251h2v2h-2zM692,251h2v2h-2zM698,251h2v2h-2zM704,251h2v2h-2zM710,251h2v2h-2zM716,251h2v2h-2zM722,251h2v2h-2zM728,251h2v2h-2zM734,251h2v2h-2zM740,251h2v2h-2zM746,251h2v2h-2zM752,251h2v2h-2zM758,251h2v2h-2zM764,251h2v2h-2zM770,251h2v2h-2zM776,251h2v2h-2zM782,251h2v2h-2zM788,251h2v2h-2zM794,251h2v2h-2zM800,251h2v2h-2zM806,251h2v2h-2zM812,251h2v2h-2zM818,251h2v2h-2zM824,251h2v2h-2zM830,251h2v2h-2zM836,251h2v2h-2zM842,251h2v2h-2zM848,251h2v2h-2zM854,251h2v2h-2zM860,251h2v2h-2zM866,251h2v2h-2zM872,251h2v2h-2zM878,251h2v2h-2zM884,251h2v2h-2zM890,251h2v2h-2zM896,251h2v2h-2zM902,251h2v2h-2zM908,251h2v2h-2zM914,251h2v2h-2zM920,251h2v2h-2zM926,251h2v2h-2zM932,251h2v2h-2zM938,251h2v2h-2zM944,251h2v2h-2zM950,251h2v2h-2zM956,251h2v2h-2zM962,251h2v2h-2zM968,251h2v2h-2zM974,251h2v2h-2zM980,251h2v2h-2zM986,251h2v2h-2zM992,251h2v2h-2zM998,251h2v2h-2zM1004,251h2v2h-2zM1010,251h2v2h-2zM1016,251h2v2h-2zM1022,251h2v2h-2zM1028,251h2v2h-2zM1034,251h2v2h-2zM1040,251h2v2h-2zM1046,251h2v2h-2zM1052,251h2v2h-2zM1058,251h2v2h-2zM1064,251h2v2h-2zM1070,251h2v2h-2zM1076,251h2v2h-2zM1082,251h2v2h-2zM1088,251h2v2h-2zM1094,251h2v2h-2zM1100,251h2v2h-2zM1106,251h2v2h-2zM1112,251h2v2h-2zM1118,251h2v2h-2zM1124,251h2v2h-2zM1130,251h2v2h-2zM1136,251h2v2h-2zM1142,251h2v2h-2zM1148,251h2v2h-2zM1154,251h2v2h-2zM1160,251h2v2h-2zM1166,251h2v2h-2zM1172,251h2v2h-2zM1178,251h2v2h-2zM1184,251h2v2h-2zM1190,251h2v2h-2zM1196,251h2v2h-2zM1202,251h2v2h-2zM1208,251h2v2h-2zM1214,251h2v2h-2zM1220,251h2v2h-2zM1226,251h2v2h-2zM1232,251h2v2h-2zM1238,251h2v2h-2zM1244,251h2v2h-2zM1250,251h2v2h-2zM1256,251h2v2h-2zM1262,251h2v2h-2zM1268,251h2v2h-2zM1274,251h2v2h-2zM1280,251h2v2h-2zM1286,251h2v2h-2zM1292,251h2v2h-2zM1298,251h2v2h-2zM1304,251h2v2h-2zM1310,251h2v2h-2zM1316,251h2v2h-2zM1322,251h2v2h-2zM1328,251h2v2h-2zM1334,251h2v2h-2zM1340,251h2v2h-2zM1346,251h2v2h-2zM1352,251h2v2h-2zM1358,251h2v2h-2zM1364,251h2v2h-2zM1370,251h2v2h-2zM1376,251h2v2h-2zM1382,251h2v2h-2zM1388,251h2v2h-2zM1394,251h2v2h-2zM1400,251h2v2h-2zM1406,251h2v2h-2zM1412,251h2v2h-2zM1418,251h2v2h-2zM1424,251h2v2h-2zM1430,251h2v2h-2zM1436,251h2v2h-2zM1442,251h2v2h-2zM1448,251h2v2h-2zM1454,251h2v2h-2zM1460,251h2v2h-2zM1466,251h2v2h-2zM1472,251h2v2h-2zM1478,251h2v2h-2zM1484,251h2v2h-2zM1490,251h2v2h-2zM1496,251h2v2h-2zM1502,251h2v2h-2zM1508,251h2v2h-2zM1514,251h2v2h-2zM1520,251h2v2h-2zM1526,251h2v2h-2zM1532,251h2v2h-2zM1538,251h2v2h-2zM1544,251h2v2h-2zM1550,251h2v2h-2zM1556,251h2v2h-2zM1562,251h2v2h-2zM1568,251h2v2h-2zM1574,251h2v2h-2zM1580,251h2v2h-2zM1586,251h2v2h-2zM1592,251h2v2h-2zM1598,251h2v2h-2zM1604,251h2v2h-2zM1610,251h2v2h-2zM1616,251h2v2h-2zM1622,251h2v2h-2zM1628,251h2v2h-2zM1634,251h2v2h-2zM1640,251h2v2h-2zM1646,251h2v2h-2zM1652,251h2v2h-2zM1658,251h2v2h-2zM1664,251h2v2h-2zM1670,251h2v2h-2zM1676,251h2v2h-2zM1682,251h2v2h-2zM1688,251h2v2h-2zM1694,251h2v2h-2zM1700,251h2v2h-2zM1706,251h2v2h-2zM1712,251h2v2h-2zM1718,251h2v2h-2zM1724,251h2v2h-2zM1730,251h2v2h-2zM1736,251h2v2h-2zM1742,251h2v2h-2zM1748,251h2v2h-2zM1754,251h2v2h-2zM1760,251h2v2h-2zM1766,251h2v2h-2zM1772,251h2v2h-2zM1778,251h2v2h-2zM1784,251h2v2h-2zM1790,251h2v2h-2zM1796,251h2v2h-2zM1802,251h2v2h-2zM1808,251h2v2h-2zM1814,251h2v2h-2zM1820,251h2v2h-2zM1826,251h2v2h-2zM1832,251h2v2h-2zM1838,251h2v2h-2zM1844,251h2v2h-2zM1850,251h2v2h-2zM1856,251h2v2h-2zM1862,251h2v2h-2zM1868,251h2v2h-2zM1874,251h2v2h-2zM1880,251h2v2h-2zM1886,251h2v2h-2zM1892,251h2v2h-2zM1898,251h2v2h-2zM1904,251h2v2h-2zM1910,251h2v2h-2zM1916,251h2v2h-2zM1922,251h2v2h-2zM1928,251h2v2h-2zM1934,251h2v2h-2zM1940,251h2v2h-2zM1946,251h2v2h-2zM1952,251h2v2h-2zM1958,251h2v2h-2zM1964,251h2v2h-2zM1970,251h2v2h-2zM1976,251h2v2h-2zM1982,251h2v2h-2zM1988,251h2v2h-2zM1994,251h2v2h-2zM2000,251h2v2h-2zM2006,251h2v2h-2zM2012,251h2v2h-2zM2018,251h2v2h-2zM2024,251h2v2h-2zM2030,251h2v2h-2zM2036,251h2v2h-2zM2042,251h2v2h-2zM2048,251h2v2h-2zM2054,251h2v2h-2zM2060,251h2v2h-2zM2066,251h2v2h-2zM2072,251h2v2h-2zM2078,251h2v2h-2zM2084,251h2v2h-2zM2090,251h2v2h-2zM2096,251h2v2h-2zM2102,251h2v2h-2zM2108,251h2v2h-2zM2114,251h2v2h-2zM2120,251h2v2h-2zM2126,251h2v2h-2zM2132,251h2v2h-2zM2138,251h2v2h-2zM2144,251h2v2h-2zM2150,251h2v2h-2zM2156,251h2v2h-2zM2162,251h2v2h-2z"/>
</g>
<g clip-path="url(#cpRsi)">
<path d="M14.0,1132 L14.0,1126.0 L26.0,1116.4 L38.0,1078.0 L50.0,1075.6 L62.0,1110.4 L73.9,1161.5 L85.9,1155.3 L97.9,1133.2 L109.9,1107.3 L121.9,1142.8 L133.9,1184.3 L145.9,1154.1 L157.9,1180.5 L169.9,1171.8 L181.9,1226.3 L193.8,1316.8 L205.8,1311.3 L217.8,1319.9 L229.8,1360.0 L241.8,1321.1 L253.8,1307.2 L265.8,1296.9 L277.8,1319.2 L289.8,1331.7 L301.7,1322.8 L313.7,1275.5 L325.7,1247.7 L337.7,1353.3 L349.7,1338.9 L361.7,1332.6 L373.7,1349.2 L385.7,1384.0 L397.7,1339.6 L409.7,1331.2 L421.6,1271.9 L433.6,1301.2 L445.6,1241.7 L457.6,1214.3 L469.6,1169.7 L481.6,1092.9 L493.6,1079.2 L505.6,1103.2 L517.6,1127.7 L529.5,1139.2 L541.5,1148.3 L553.5,1133.7 L565.5,1125.0 L577.5,1125.0 L589.5,1139.2 L601.5,1129.1 L613.5,1146.4 L625.5,1175.2 L637.5,1159.6 L649.4,1134.9 L661.4,1200.9 L673.4,1269.3 L685.4,1236.4 L697.4,1214.8 L709.4,1194.4 L721.4,1269.5 L733.4,1252.7 L745.4,1248.9 L757.3,1234.5 L769.3,1279.6 L781.3,1278.9 L793.3,1302.4 L805.3,1291.6 L817.3,1277.7 L829.3,1284.9 L841.3,1306.7 L853.3,1283.7 L865.3,1278.4 L877.2,1284.4 L889.2,1252.0 L901.2,1222.0 L913.2,1256.3 L925.2,1271.9 L937.2,1256.8 L949.2,1313.9 L961.2,1277.2 L973.2,1185.5 L985.1,1192.7 L997.1,1173.5 L1009.1,1227.3 L1021.1,1210.5 L1033.1,1186.7 L1045.1,1204.7 L1057.1,1241.2 L1069.1,1258.0 L1081.1,1241.7 L1093.1,1224.4 L1105.0,1246.5 L1117.0,1258.2 L1129.0,1232.8 L1141.0,1231.8 L1153.0,1271.2 L1165.0,1309.6 L1177.0,1294.0 L1189.0,1271.9 L1201.0,1257.5 L1213.0,1232.8 L1224.9,1218.9 L1236.9,1212.4 L1248.9,1157.7 L1260.9,1222.0 L1272.9,1177.1 L1284.9,1167.8 L1296.9,1169.9 L1308.9,1159.4 L1320.9,1149.3 L1332.8,1177.1 L1344.8,1223.9 L1356.8,1215.3 L1368.8,1235.2 L1380.8,1220.8 L1392.8,1219.4 L1404.8,1235.9 L1416.8,1246.7 L1428.8,1260.4 L1440.8,1254.2 L1452.7,1257.3 L1464.7,1272.8 L1476.7,1231.8 L1488.7,1244.7 L1500.7,1233.9 L1512.7,1228.4 L1524.7,1287.9 L1536.7,1278.1 L1548.7,1248.1 L1560.6,1218.3 L1572.6,1208.7 L1584.6,1146.8 L1596.6,1131.2 L1608.6,1216.9 L1620.6,1199.1 L1632.6,1209.7 L1644.6,1269.9 L1656.6,1264.2 L1668.6,1419.9 L1680.5,1402.9 L1692.5,1414.9 L1704.5,1424.0 L1716.5,1385.8 L1728.5,1389.2 L1740.5,1389.7 L1752.5,1393.3 L1764.5,1402.9 L1776.5,1410.8 L1788.4,1407.4 L1800.4,1443.9 L1812.4,1460.0 L1824.4,1471.3 L1836.4,1438.4 L1848.4,1428.3 L1860.4,1383.9 L1872.4,1384.4 L1884.4,1391.1 L1896.4,1336.4 L1908.3,1330.4 L1920.3,1391.6 L1932.3,1410.3 L1944.3,1328.2 L1956.3,1324.2 L1968.3,1341.2 L1980.3,1353.2 L1992.3,1365.0 L2004.3,1366.4 L2016.2,1336.4 L2028.2,1366.4 L2040.2,1383.9 L2052.2,1358.7 L2064.2,1364.0 L2076.2,1324.4 L2088.2,1295.1 L2100.2,1203.2 L2112.2,1131.2 L2124.2,1214.7 L2136.1,1184.5 L2148.1,1192.2 L2160.1,1169.1 L2172.1,1125.2 L2172.1,1132 Z" fill="url(#gob)" clip-path="url(#cpOB)"/>
<path d="M14.0,1429 L14.0,1126.0 L26.0,1116.4 L38.0,1078.0 L50.0,1075.6 L62.0,1110.4 L73.9,1161.5 L85.9,1155.3 L97.9,1133.2 L109.9,1107.3 L121.9,1142.8 L133.9,1184.3 L145.9,1154.1 L157.9,1180.5 L169.9,1171.8 L181.9,1226.3 L193.8,1316.8 L205.8,1311.3 L217.8,1319.9 L229.8,1360.0 L241.8,1321.1 L253.8,1307.2 L265.8,1296.9 L277.8,1319.2 L289.8,1331.7 L301.7,1322.8 L313.7,1275.5 L325.7,1247.7 L337.7,1353.3 L349.7,1338.9 L361.7,1332.6 L373.7,1349.2 L385.7,1384.0 L397.7,1339.6 L409.7,1331.2 L421.6,1271.9 L433.6,1301.2 L445.6,1241.7 L457.6,1214.3 L469.6,1169.7 L481.6,1092.9 L493.6,1079.2 L505.6,1103.2 L517.6,1127.7 L529.5,1139.2 L541.5,1148.3 L553.5,1133.7 L565.5,1125.0 L577.5,1125.0 L589.5,1139.2 L601.5,1129.1 L613.5,1146.4 L625.5,1175.2 L637.5,1159.6 L649.4,1134.9 L661.4,1200.9 L673.4,1269.3 L685.4,1236.4 L697.4,1214.8 L709.4,1194.4 L721.4,1269.5 L733.4,1252.7 L745.4,1248.9 L757.3,1234.5 L769.3,1279.6 L781.3,1278.9 L793.3,1302.4 L805.3,1291.6 L817.3,1277.7 L829.3,1284.9 L841.3,1306.7 L853.3,1283.7 L865.3,1278.4 L877.2,1284.4 L889.2,1252.0 L901.2,1222.0 L913.2,1256.3 L925.2,1271.9 L937.2,1256.8 L949.2,1313.9 L961.2,1277.2 L973.2,1185.5 L985.1,1192.7 L997.1,1173.5 L1009.1,1227.3 L1021.1,1210.5 L1033.1,1186.7 L1045.1,1204.7 L1057.1,1241.2 L1069.1,1258.0 L1081.1,1241.7 L1093.1,1224.4 L1105.0,1246.5 L1117.0,1258.2 L1129.0,1232.8 L1141.0,1231.8 L1153.0,1271.2 L1165.0,1309.6 L1177.0,1294.0 L1189.0,1271.9 L1201.0,1257.5 L1213.0,1232.8 L1224.9,1218.9 L1236.9,1212.4 L1248.9,1157.7 L1260.9,1222.0 L1272.9,1177.1 L1284.9,1167.8 L1296.9,1169.9 L1308.9,1159.4 L1320.9,1149.3 L1332.8,1177.1 L1344.8,1223.9 L1356.8,1215.3 L1368.8,1235.2 L1380.8,1220.8 L1392.8,1219.4 L1404.8,1235.9 L1416.8,1246.7 L1428.8,1260.4 L1440.8,1254.2 L1452.7,1257.3 L1464.7,1272.8 L1476.7,1231.8 L1488.7,1244.7 L1500.7,1233.9 L1512.7,1228.4 L1524.7,1287.9 L1536.7,1278.1 L1548.7,1248.1 L1560.6,1218.3 L1572.6,1208.7 L1584.6,1146.8 L1596.6,1131.2 L1608.6,1216.9 L1620.6,1199.1 L1632.6,1209.7 L1644.6,1269.9 L1656.6,1264.2 L1668.6,1419.9 L1680.5,1402.9 L1692.5,1414.9 L1704.5,1424.0 L1716.5,1385.8 L1728.5,1389.2 L1740.5,1389.7 L1752.5,1393.3 L1764.5,1402.9 L1776.5,1410.8 L1788.4,1407.4 L1800.4,1443.9 L1812.4,1460.0 L1824.4,1471.3 L1836.4,1438.4 L1848.4,1428.3 L1860.4,1383.9 L1872.4,1384.4 L1884.4,1391.1 L1896.4,1336.4 L1908.3,1330.4 L1920.3,1391.6 L1932.3,1410.3 L1944.3,1328.2 L1956.3,1324.2 L1968.3,1341.2 L1980.3,1353.2 L1992.3,1365.0 L2004.3,1366.4 L2016.2,1336.4 L2028.2,1366.4 L2040.2,1383.9 L2052.2,1358.7 L2064.2,1364.0 L2076.2,1324.4 L2088.2,1295.1 L2100.2,1203.2 L2112.2,1131.2 L2124.2,1214.7 L2136.1,1184.5 L2148.1,1192.2 L2160.1,1169.1 L2172.1,1125.2 L2172.1,1429 Z" fill="url(#gos)" clip-path="url(#cpOS)"/>
<path d="M20,1132H2298" stroke="#787b86" stroke-width="2" stroke-dasharray="10 12" fill="none"/>
<path d="M20,1281H2298" stroke="rgba(120,123,134,0.55)" stroke-width="2" stroke-dasharray="10 12" fill="none"/>
<path d="M20,1429H2298" stroke="#787b86" stroke-width="2" stroke-dasharray="10 12" fill="none"/>
<path d="M14.0,1126.0 L26.0,1116.4 L38.0,1078.0 L50.0,1075.6 L62.0,1110.4 L73.9,1161.5 L85.9,1155.3 L97.9,1133.2 L109.9,1107.3 L121.9,1142.8 L133.9,1184.3 L145.9,1154.1 L157.9,1180.5 L169.9,1171.8 L181.9,1226.3 L193.8,1316.8 L205.8,1311.3 L217.8,1319.9 L229.8,1360.0 L241.8,1321.1 L253.8,1307.2 L265.8,1296.9 L277.8,1319.2 L289.8,1331.7 L301.7,1322.8 L313.7,1275.5 L325.7,1247.7 L337.7,1353.3 L349.7,1338.9 L361.7,1332.6 L373.7,1349.2 L385.7,1384.0 L397.7,1339.6 L409.7,1331.2 L421.6,1271.9 L433.6,1301.2 L445.6,1241.7 L457.6,1214.3 L469.6,1169.7 L481.6,1092.9 L493.6,1079.2 L505.6,1103.2 L517.6,1127.7 L529.5,1139.2 L541.5,1148.3 L553.5,1133.7 L565.5,1125.0 L577.5,1125.0 L589.5,1139.2 L601.5,1129.1 L613.5,1146.4 L625.5,1175.2 L637.5,1159.6 L649.4,1134.9 L661.4,1200.9 L673.4,1269.3 L685.4,1236.4 L697.4,1214.8 L709.4,1194.4 L721.4,1269.5 L733.4,1252.7 L745.4,1248.9 L757.3,1234.5 L769.3,1279.6 L781.3,1278.9 L793.3,1302.4 L805.3,1291.6 L817.3,1277.7 L829.3,1284.9 L841.3,1306.7 L853.3,1283.7 L865.3,1278.4 L877.2,1284.4 L889.2,1252.0 L901.2,1222.0 L913.2,1256.3 L925.2,1271.9 L937.2,1256.8 L949.2,1313.9 L961.2,1277.2 L973.2,1185.5 L985.1,1192.7 L997.1,1173.5 L1009.1,1227.3 L1021.1,1210.5 L1033.1,1186.7 L1045.1,1204.7 L1057.1,1241.2 L1069.1,1258.0 L1081.1,1241.7 L1093.1,1224.4 L1105.0,1246.5 L1117.0,1258.2 L1129.0,1232.8 L1141.0,1231.8 L1153.0,1271.2 L1165.0,1309.6 L1177.0,1294.0 L1189.0,1271.9 L1201.0,1257.5 L1213.0,1232.8 L1224.9,1218.9 L1236.9,1212.4 L1248.9,1157.7 L1260.9,1222.0 L1272.9,1177.1 L1284.9,1167.8 L1296.9,1169.9 L1308.9,1159.4 L1320.9,1149.3 L1332.8,1177.1 L1344.8,1223.9 L1356.8,1215.3 L1368.8,1235.2 L1380.8,1220.8 L1392.8,1219.4 L1404.8,1235.9 L1416.8,1246.7 L1428.8,1260.4 L1440.8,1254.2 L1452.7,1257.3 L1464.7,1272.8 L1476.7,1231.8 L1488.7,1244.7 L1500.7,1233.9 L1512.7,1228.4 L1524.7,1287.9 L1536.7,1278.1 L1548.7,1248.1 L1560.6,1218.3 L1572.6,1208.7 L1584.6,1146.8 L1596.6,1131.2 L1608.6,1216.9 L1620.6,1199.1 L1632.6,1209.7 L1644.6,1269.9 L1656.6,1264.2 L1668.6,1419.9 L1680.5,1402.9 L1692.5,1414.9 L1704.5,1424.0 L1716.5,1385.8 L1728.5,1389.2 L1740.5,1389.7 L1752.5,1393.3 L1764.5,1402.9 L1776.5,1410.8 L1788.4,1407.4 L1800.4,1443.9 L1812.4,1460.0 L1824.4,1471.3 L1836.4,1438.4 L1848.4,1428.3 L1860.4,1383.9 L1872.4,1384.4 L1884.4,1391.1 L1896.4,1336.4 L1908.3,1330.4 L1920.3,1391.6 L1932.3,1410.3 L1944.3,1328.2 L1956.3,1324.2 L1968.3,1341.2 L1980.3,1353.2 L1992.3,1365.0 L2004.3,1366.4 L2016.2,1336.4 L2028.2,1366.4 L2040.2,1383.9 L2052.2,1358.7 L2064.2,1364.0 L2076.2,1324.4 L2088.2,1295.1 L2100.2,1203.2 L2112.2,1131.2 L2124.2,1214.7 L2136.1,1184.5 L2148.1,1192.2 L2160.1,1169.1 L2172.1,1125.2" fill="none" stroke="#7e57c2" stroke-width="2.2" stroke-linejoin="round"/>
<path d="M14.0,1117.8 L26.0,1111.6 L38.0,1102.7 L50.0,1096.7 L62.0,1091.2 L73.9,1096.5 L85.9,1104.4 L97.9,1110.9 L109.9,1111.1 L121.9,1115.9 L133.9,1121.9 L145.9,1126.5 L157.9,1133.2 L169.9,1135.8 L181.9,1142.8 L193.8,1157.2 L205.8,1174.7 L217.8,1192.0 L229.8,1209.3 L241.8,1221.3 L253.8,1232.3 L265.8,1243.6 L277.8,1258.7 L289.8,1271.9 L301.7,1282.0 L313.7,1289.7 L325.7,1294.7 L337.7,1307.2 L349.7,1315.8 L361.7,1317.0 L373.7,1319.9 L385.7,1324.2 L397.7,1323.3 L409.7,1323.8 L421.6,1321.1 L433.6,1321.4 L445.6,1315.8 L457.6,1307.2 L469.6,1296.4 L481.6,1283.2 L493.6,1271.2 L505.6,1253.2 L517.6,1238.3 L529.5,1224.4 L541.5,1210.0 L553.5,1192.5 L565.5,1176.9 L577.5,1162.5 L589.5,1152.9 L601.5,1140.9 L613.5,1134.4 L625.5,1131.3 L637.5,1130.6 L649.4,1133.2 L661.4,1141.6 L673.4,1153.6 L685.4,1161.3 L697.4,1166.6 L709.4,1170.2 L721.4,1180.0 L733.4,1188.9 L745.4,1196.8 L757.3,1203.5 L769.3,1214.8 L781.3,1224.9 L793.3,1234.0 L805.3,1243.1 L817.3,1253.2 L829.3,1259.2 L841.3,1262.1 L853.3,1265.4 L865.3,1270.2 L877.2,1276.0 L889.2,1275.3 L901.2,1273.1 L913.2,1273.6 L925.2,1276.0 L937.2,1275.0 L949.2,1277.2 L961.2,1275.3 L973.2,1268.1 L985.1,1262.1 L997.1,1254.4 L1009.1,1248.6 L1021.1,1243.6 L1033.1,1237.1 L1045.1,1231.1 L1057.1,1229.9 L1069.1,1232.1 L1081.1,1231.4 L1093.1,1228.7 L1105.0,1227.5 L1117.0,1223.7 L1129.0,1220.3 L1141.0,1223.7 L1153.0,1229.4 L1165.0,1238.8 L1177.0,1243.6 L1189.0,1249.1 L1201.0,1253.7 L1213.0,1255.4 L1224.9,1253.9 L1236.9,1250.8 L1248.9,1244.8 L1260.9,1244.3 L1272.9,1239.0 L1284.9,1232.8 L1296.9,1228.5 L1308.9,1223.2 L1320.9,1214.8 L1332.8,1204.7 L1344.8,1199.9 L1356.8,1196.1 L1368.8,1194.2 L1380.8,1193.2 L1392.8,1193.4 L1404.8,1195.6 L1416.8,1201.6 L1428.8,1204.5 L1440.8,1210.0 L1452.7,1217.0 L1464.7,1223.1 L1476.7,1228.6 L1488.7,1235.6 L1500.7,1239.2 L1512.7,1239.9 L1524.7,1244.7 L1536.7,1247.8 L1548.7,1250.0 L1560.6,1250.0 L1572.6,1248.1 L1584.6,1241.6 L1596.6,1232.0 L1608.6,1229.1 L1620.6,1225.3 L1632.6,1220.7 L1644.6,1223.1 L1656.6,1224.8 L1668.6,1238.0 L1680.5,1250.5 L1692.5,1259.6 L1704.5,1269.4 L1716.5,1279.5 L1728.5,1292.0 L1740.5,1304.5 L1752.5,1323.2 L1764.5,1341.7 L1776.5,1355.8 L1788.4,1370.7 L1800.4,1386.8 L1812.4,1401.2 L1824.4,1415.6 L1836.4,1417.3 L1848.4,1418.7 L1860.4,1416.6 L1872.4,1413.4 L1884.4,1413.9 L1896.4,1410.1 L1908.3,1406.0 L1920.3,1405.8 L1932.3,1406.0 L1944.3,1400.0 L1956.3,1393.5 L1968.3,1386.1 L1980.3,1378.4 L1992.3,1371.2 L2004.3,1366.4 L2016.2,1360.4 L2028.2,1359.0 L2040.2,1358.7 L2052.2,1356.8 L2064.2,1358.7 L2076.2,1358.0 L2088.2,1351.3 L2100.2,1336.4 L2112.2,1322.2 L2124.2,1314.3 L2136.1,1302.8 L2148.1,1291.3 L2160.1,1276.9 L2172.1,1260.3" fill="none" stroke="#fdd835" stroke-width="2.2" stroke-linejoin="round"/>
</g>
<rect x="21" y="1025" width="2436" height="2" fill="#e6e6e7"/>
<text x="2316.1" y="129.7" fill="#08080a" font-size="23.5" font-weight="normal" text-anchor="start" textLength="119.3" lengthAdjust="spacingAndGlyphs" style="font-family:'Liberation Sans',sans-serif;font-kerning:none;" >74,000.00</text>
<text x="2316.1" y="195.7" fill="#08080a" font-size="23.5" font-weight="normal" text-anchor="start" textLength="119.3" lengthAdjust="spacingAndGlyphs" style="font-family:'Liberation Sans',sans-serif;font-kerning:none;" >73,500.00</text>
<text x="2316.1" y="325.7" fill="#08080a" font-size="23.5" font-weight="normal" text-anchor="start" textLength="119.3" lengthAdjust="spacingAndGlyphs" style="font-family:'Liberation Sans',sans-serif;font-kerning:none;" >72,500.00</text>
<text x="2316.1" y="391.7" fill="#08080a" font-size="23.5" font-weight="normal" text-anchor="start" textLength="119.3" lengthAdjust="spacingAndGlyphs" style="font-family:'Liberation Sans',sans-serif;font-kerning:none;" >72,000.00</text>
<text x="2316.1" y="457.7" fill="#08080a" font-size="23.5" font-weight="normal" text-anchor="start" textLength="119.3" lengthAdjust="spacingAndGlyphs" style="font-family:'Liberation Sans',sans-serif;font-kerning:none;" >71,500.00</text>
<text x="2316.1" y="523.7" fill="#08080a" font-size="23.5" font-weight="normal" text-anchor="start" textLength="119.3" lengthAdjust="spacingAndGlyphs" style="font-family:'Liberation Sans',sans-serif;font-kerning:none;" >71,000.00</text>
<text x="2316.1" y="587.7" fill="#08080a" font-size="23.5" font-weight="normal" text-anchor="start" textLength="119.3" lengthAdjust="spacingAndGlyphs" style="font-family:'Liberation Sans',sans-serif;font-kerning:none;" >70,500.00</text>
<text x="2316.1" y="653.7" fill="#08080a" font-size="23.5" font-weight="normal" text-anchor="start" textLength="119.3" lengthAdjust="spacingAndGlyphs" style="font-family:'Liberation Sans',sans-serif;font-kerning:none;" >70,000.00</text>
<text x="2316.1" y="719.7" fill="#08080a" font-size="23.5" font-weight="normal" text-anchor="start" textLength="119.3" lengthAdjust="spacingAndGlyphs" style="font-family:'Liberation Sans',sans-serif;font-kerning:none;" >69,500.00</text>
<text x="2316.1" y="785.7" fill="#08080a" font-size="23.5" font-weight="normal" text-anchor="start" textLength="119.3" lengthAdjust="spacingAndGlyphs" style="font-family:'Liberation Sans',sans-serif;font-kerning:none;" >69,000.00</text>
<text x="2316.1" y="851.7" fill="#08080a" font-size="23.5" font-weight="normal" text-anchor="start" textLength="119.3" lengthAdjust="spacingAndGlyphs" style="font-family:'Liberation Sans',sans-serif;font-kerning:none;" >68,500.00</text>
<text x="2316.1" y="915.7" fill="#08080a" font-size="23.5" font-weight="normal" text-anchor="start" textLength="119.3" lengthAdjust="spacingAndGlyphs" style="font-family:'Liberation Sans',sans-serif;font-kerning:none;" >68,000.00</text>
<text x="2316.1" y="981.7" fill="#08080a" font-size="23.5" font-weight="normal" text-anchor="start" textLength="119.3" lengthAdjust="spacingAndGlyphs" style="font-family:'Liberation Sans',sans-serif;font-kerning:none;" >67,500.00</text>
<rect x="2300" y="56" width="156" height="62" fill="#fff"/>
<rect x="2306" y="62" width="144" height="52" rx="8" ry="8" fill="#fff" stroke="#efeff0" stroke-width="2"/>
<text x="2323.2" y="95.5" fill="#08080a" font-size="23.5" font-weight="normal" text-anchor="start" textLength="65.3" lengthAdjust="spacingAndGlyphs" style="font-family:'Liberation Sans',sans-serif;font-kerning:none;" >USDT</text>
<text x="2316.3" y="1066.5" fill="#08080a" font-size="23.5" font-weight="normal" text-anchor="start" textLength="66.5" lengthAdjust="spacingAndGlyphs" style="font-family:'Liberation Sans',sans-serif;font-kerning:none;" >80.00</text>
<text x="2316.1" y="1214.5" fill="#08080a" font-size="23.5" font-weight="normal" text-anchor="start" textLength="66.7" lengthAdjust="spacingAndGlyphs" style="font-family:'Liberation Sans',sans-serif;font-kerning:none;" >60.00</text>
<text x="2316.4" y="1289.5" fill="#08080a" font-size="23.5" font-weight="normal" text-anchor="start" textLength="66.4" lengthAdjust="spacingAndGlyphs" style="font-family:'Liberation Sans',sans-serif;font-kerning:none;" >50.00</text>
<text x="2316.9" y="1363.5" fill="#08080a" font-size="23.5" font-weight="normal" text-anchor="start" textLength="65.9" lengthAdjust="spacingAndGlyphs" style="font-family:'Liberation Sans',sans-serif;font-kerning:none;" >40.00</text>
<text x="2316.5" y="1437.5" fill="#08080a" font-size="23.5" font-weight="normal" text-anchor="start" textLength="66.3" lengthAdjust="spacingAndGlyphs" style="font-family:'Liberation Sans',sans-serif;font-kerning:none;" >30.00</text>
<text x="2316.2" y="1512.5" fill="#08080a" font-size="23.5" font-weight="normal" text-anchor="start" textLength="66.7" lengthAdjust="spacingAndGlyphs" style="font-family:'Liberation Sans',sans-serif;font-kerning:none;" >20.00</text>
<path d="M2298,234.8V268.7H2172Q2168,268.7 2168,264.7V238.8Q2168,234.8 2172,234.8Z" fill="#089981"/>
<text x="2176.6" y="259.8" fill="#fff" font-size="23.5" font-weight="normal" text-anchor="start" textLength="113.4" lengthAdjust="spacingAndGlyphs" style="font-family:'Liberation Sans',sans-serif;font-kerning:none;" >BTCUSDT</text>
<path d="M2300,234.8H2444Q2448,234.8 2448,238.8V292.7Q2448,296.7 2444,296.7H2300Z" fill="#089981"/>
<text x="2316.1" y="258.0" fill="#fff" font-size="23.5" font-weight="normal" text-anchor="start" textLength="119.2" lengthAdjust="spacingAndGlyphs" style="font-family:'Liberation Sans',sans-serif;font-kerning:none;" >73,023.27</text>
<text x="2316.7" y="286.0" fill="rgba(255,255,255,0.72)" font-size="23.5" font-weight="normal" text-anchor="start" textLength="65.6" lengthAdjust="spacingAndGlyphs" style="font-family:'Liberation Sans',sans-serif;font-kerning:none;" >24:17</text>
<path d="M2300,418H2444Q2448,418 2448,422V447.7Q2448,451.7 2444,451.7H2300Z" fill="#4caf50"/>
<text x="2316.2" y="440.8" fill="#fff" font-size="23.5" font-weight="normal" text-anchor="start" textLength="117.0" lengthAdjust="spacingAndGlyphs" style="font-family:'Liberation Sans',sans-serif;font-kerning:none;" >71,625.81</text>
<path d="M2300,896H2394Q2398,896 2398,900V925.7Q2398,929.7 2394,929.7H2300Z" fill="#26a69a"/>
<text x="2317.2" y="920.9" fill="#fff" font-size="23.5" font-weight="normal" text-anchor="start" textLength="69.3" lengthAdjust="spacingAndGlyphs" style="font-family:'Liberation Sans',sans-serif;font-kerning:none;" >1.69 K</text>
<path d="M2300,1109H2389.8Q2393.8,1109 2393.8,1113V1138.8Q2393.8,1142.8 2389.8,1142.8H2300Z" fill="#7e57c2"/>
<text x="2316.0" y="1134.0" fill="#fff" font-size="23.5" font-weight="normal" text-anchor="start" textLength="66.7" lengthAdjust="spacingAndGlyphs" style="font-family:'Liberation Sans',sans-serif;font-kerning:none;" >70.80</text>
<path d="M2300,1244H2389.8Q2393.8,1244 2393.8,1248V1273.7Q2393.8,1277.7 2389.8,1277.7H2300Z" fill="#fdd835"/>
<text x="2316.4" y="1269.0" fill="#08080a" font-size="23.5" font-weight="normal" text-anchor="start" textLength="66.5" lengthAdjust="spacingAndGlyphs" style="font-family:'Liberation Sans',sans-serif;font-kerning:none;" >52.68</text>
<text x="217.8" y="1549.8" fill="#08080a" font-size="23.5" font-weight="normal" text-anchor="middle" style="font-family:'Liberation Sans',sans-serif;font-kerning:none;" >7</text>
<text x="505.6" y="1549.8" fill="#08080a" font-size="23.5" font-weight="normal" text-anchor="middle" style="font-family:'Liberation Sans',sans-serif;font-kerning:none;" >8</text>
<text x="793.3" y="1549.8" fill="#08080a" font-size="23.5" font-weight="normal" text-anchor="middle" style="font-family:'Liberation Sans',sans-serif;font-kerning:none;" >9</text>
<text x="1066.8" y="1549.8" fill="#08080a" font-size="23.5" font-weight="normal" text-anchor="start" textLength="28.5" lengthAdjust="spacingAndGlyphs" style="font-family:'Liberation Sans',sans-serif;font-kerning:none;" >10</text>
<text x="1354.6" y="1549.8" fill="#08080a" font-size="23.5" font-weight="normal" text-anchor="start" textLength="28.5" lengthAdjust="spacingAndGlyphs" style="font-family:'Liberation Sans',sans-serif;font-kerning:none;" >11</text>
<text x="1642.3" y="1549.8" fill="#08080a" font-size="23.5" font-weight="normal" text-anchor="start" textLength="28.5" lengthAdjust="spacingAndGlyphs" style="font-family:'Liberation Sans',sans-serif;font-kerning:none;" >12</text>
<text x="1928.8" y="1549.8" fill="#08080a" font-size="23.5" font-weight="bold" text-anchor="start" textLength="31.0" lengthAdjust="spacingAndGlyphs" style="font-family:'Liberation Sans',sans-serif;font-kerning:none;" >13</text>
<text x="2217.8" y="1549.8" fill="#08080a" font-size="23.5" font-weight="normal" text-anchor="start" textLength="28.5" lengthAdjust="spacingAndGlyphs" style="font-family:'Liberation Sans',sans-serif;font-kerning:none;" >14</text>
<g transform="translate(2172,1000)">
<circle r="22.5" fill="#fff"/>
<circle r="19.5" fill="#fff" stroke="#9c27b0" stroke-width="3"/>
<path d="M5,-10.8L7,-9.2L0.5,-0.85H8.8L-5.2,11.2L-6.9,9.8L0.1,1.3H-8.5Z" fill="#9c27b0"/>
</g>
<text x="20.0" y="43.7" fill="#08080a" font-size="23.5" font-weight="normal" text-anchor="start" textLength="173.3" lengthAdjust="spacingAndGlyphs" style="font-family:'Liberation Sans',sans-serif;font-kerning:none;" >kostagushterov</text>
<text x="200.6" y="43.7" fill="#08080a" font-size="23.5" font-weight="normal" text-anchor="start" textLength="86.4" lengthAdjust="spacingAndGlyphs" style="font-family:'Liberation Sans',sans-serif;font-kerning:none;" >created</text>
<text x="294.6" y="43.7" fill="#08080a" font-size="23.5" font-weight="normal" text-anchor="start" textLength="46.7" lengthAdjust="spacingAndGlyphs" style="font-family:'Liberation Sans',sans-serif;font-kerning:none;" >with</text>
<text x="347.8" y="43.7" fill="#08080a" font-size="23.5" font-weight="normal" text-anchor="start" textLength="200.0" lengthAdjust="spacingAndGlyphs" style="font-family:'Liberation Sans',sans-serif;font-kerning:none;" >TradingView.com,</text>
<text x="555.5" y="43.7" fill="#08080a" font-size="23.5" font-weight="normal" text-anchor="start" textLength="38.8" lengthAdjust="spacingAndGlyphs" style="font-family:'Liberation Sans',sans-serif;font-kerning:none;" >Apr</text>
<text x="601.8" y="43.7" fill="#08080a" font-size="23.5" font-weight="normal" text-anchor="start" textLength="31.7" lengthAdjust="spacingAndGlyphs" style="font-family:'Liberation Sans',sans-serif;font-kerning:none;" >13,</text>
<text x="640.1" y="43.7" fill="#08080a" font-size="23.5" font-weight="normal" text-anchor="start" textLength="59.5" lengthAdjust="spacingAndGlyphs" style="font-family:'Liberation Sans',sans-serif;font-kerning:none;" >2026</text>
<text x="706.6" y="43.7" fill="#08080a" font-size="23.5" font-weight="normal" text-anchor="start" textLength="62.9" lengthAdjust="spacingAndGlyphs" style="font-family:'Liberation Sans',sans-serif;font-kerning:none;" >19:35</text>
<text x="776.2" y="43.7" fill="#08080a" font-size="23.5" font-weight="normal" text-anchor="start" textLength="50.1" lengthAdjust="spacingAndGlyphs" style="font-family:'Liberation Sans',sans-serif;font-kerning:none;" >UTC</text>
<text x="35.0" y="97.6" fill="#08080a" font-size="23.5" font-weight="normal" text-anchor="start" textLength="79.1" lengthAdjust="spacingAndGlyphs" style="font-family:'Liberation Sans',sans-serif;font-kerning:none;" >Bitcoin</text>
<text x="125.4" y="97.6" fill="#08080a" font-size="23.5" font-weight="normal" text-anchor="middle" style="font-family:'Liberation Sans',sans-serif;font-kerning:none;" >/</text>
<text x="135.2" y="97.6" fill="#08080a" font-size="23.5" font-weight="normal" text-anchor="start" textLength="104.6" lengthAdjust="spacingAndGlyphs" style="font-family:'Liberation Sans',sans-serif;font-kerning:none;" >TetherUS</text>
<text x="249.8" y="97.6" fill="#08080a" font-size="23.5" font-weight="normal" text-anchor="middle" style="font-family:'Liberation Sans',sans-serif;font-kerning:none;" >·</text>
<text x="258.3" y="97.6" fill="#08080a" font-size="23.5" font-weight="normal" text-anchor="start" textLength="26.6" lengthAdjust="spacingAndGlyphs" style="font-family:'Liberation Sans',sans-serif;font-kerning:none;" >1h</text>
<text x="295.4" y="97.6" fill="#08080a" font-size="23.5" font-weight="normal" text-anchor="middle" style="font-family:'Liberation Sans',sans-serif;font-kerning:none;" >·</text>
<text x="305.0" y="97.6" fill="#08080a" font-size="23.5" font-weight="normal" text-anchor="start" textLength="91.3" lengthAdjust="spacingAndGlyphs" style="font-family:'Liberation Sans',sans-serif;font-kerning:none;" >Binance</text>
<text x="409.2" y="97.6" fill="#08080a" font-size="23.5" font-weight="normal" text-anchor="start" textLength="18.7" lengthAdjust="spacingAndGlyphs" style="font-family:'Liberation Sans',sans-serif;font-kerning:none;" >O</text>
<text x="556.8" y="97.6" fill="#08080a" font-size="23.5" font-weight="normal" text-anchor="start" textLength="18.5" lengthAdjust="spacingAndGlyphs" style="font-family:'Liberation Sans',sans-serif;font-kerning:none;" >H</text>
<text x="702.4" y="97.6" fill="#08080a" font-size="23.5" font-weight="normal" text-anchor="start" textLength="13.5" lengthAdjust="spacingAndGlyphs" style="font-family:'Liberation Sans',sans-serif;font-kerning:none;" >L</text>
<text x="844.9" y="97.6" fill="#08080a" font-size="23.5" font-weight="normal" text-anchor="start" textLength="16.3" lengthAdjust="spacingAndGlyphs" style="font-family:'Liberation Sans',sans-serif;font-kerning:none;" >C</text>
<text x="427.8" y="97.6" fill="#089981" font-size="23.5" font-weight="normal" text-anchor="start" textLength="115.9" lengthAdjust="spacingAndGlyphs" style="font-family:'Liberation Sans',sans-serif;font-kerning:none;" >72,424.86</text>
<text x="574.9" y="97.6" fill="#089981" font-size="23.5" font-weight="normal" text-anchor="start" textLength="113.4" lengthAdjust="spacingAndGlyphs" style="font-family:'Liberation Sans',sans-serif;font-kerning:none;" >73,200.22</text>
<text x="716.0" y="97.6" fill="#089981" font-size="23.5" font-weight="normal" text-anchor="start" textLength="115.1" lengthAdjust="spacingAndGlyphs" style="font-family:'Liberation Sans',sans-serif;font-kerning:none;" >72,298.93</text>
<text x="861.3" y="97.6" fill="#089981" font-size="23.5" font-weight="normal" text-anchor="start" textLength="112.3" lengthAdjust="spacingAndGlyphs" style="font-family:'Liberation Sans',sans-serif;font-kerning:none;" >73,023.27</text>
<text x="986.9" y="97.6" fill="#089981" font-size="23.5" font-weight="normal" text-anchor="start" textLength="93.1" lengthAdjust="spacingAndGlyphs" style="font-family:'Liberation Sans',sans-serif;font-kerning:none;" >+598.41</text>
<text x="1086.9" y="97.6" fill="#089981" font-size="23.5" font-weight="normal" text-anchor="start" textLength="106.1" lengthAdjust="spacingAndGlyphs" style="font-family:'Liberation Sans',sans-serif;font-kerning:none;" >(+0.83%)</text>
<text x="37.1" y="132.0" fill="#08080a" font-size="23.5" font-weight="normal" text-anchor="start" textLength="34.4" lengthAdjust="spacingAndGlyphs" style="font-family:'Liberation Sans',sans-serif;font-kerning:none;" >Vol</text>
<text x="81.6" y="132.0" fill="#08080a" font-size="23.5" font-weight="normal" text-anchor="middle" style="font-family:'Liberation Sans',sans-serif;font-kerning:none;" >·</text>
<text x="91.1" y="132.0" fill="#08080a" font-size="23.5" font-weight="normal" text-anchor="start" textLength="48.2" lengthAdjust="spacingAndGlyphs" style="font-family:'Liberation Sans',sans-serif;font-kerning:none;" >BTC</text>
<text x="151.6" y="132.0" fill="#26a69a" font-size="23.5" font-weight="normal" text-anchor="start" textLength="67.4" lengthAdjust="spacingAndGlyphs" style="font-family:'Liberation Sans',sans-serif;font-kerning:none;" >1.69 K</text>
<text x="36.0" y="166.0" fill="#08080a" font-size="23.5" font-weight="normal" text-anchor="start" textLength="34.0" lengthAdjust="spacingAndGlyphs" style="font-family:'Liberation Sans',sans-serif;font-kerning:none;" >CC</text>
<text x="76.6" y="166.0" fill="#08080a" font-size="23.5" font-weight="normal" text-anchor="start" textLength="51.8" lengthAdjust="spacingAndGlyphs" style="font-family:'Liberation Sans',sans-serif;font-kerning:none;" >SMA</text>
<text x="137.2" y="166.0" fill="#08080a" font-size="23.5" font-weight="normal" text-anchor="start" textLength="43.3" lengthAdjust="spacingAndGlyphs" style="font-family:'Liberation Sans',sans-serif;font-kerning:none;" >(50,</text>
<text x="188.4" y="166.0" fill="#08080a" font-size="23.5" font-weight="normal" text-anchor="start" textLength="67.2" lengthAdjust="spacingAndGlyphs" style="font-family:'Liberation Sans',sans-serif;font-kerning:none;" >close)</text>
<text x="270.4" y="166.0" fill="#4caf50" font-size="23.5" font-weight="normal" text-anchor="start" textLength="106.7" lengthAdjust="spacingAndGlyphs" style="font-family:'Liberation Sans',sans-serif;font-kerning:none;" >71,625.81</text>
<text x="35.1" y="1071.0" fill="#08080a" font-size="23.5" font-weight="normal" text-anchor="start" textLength="38.0" lengthAdjust="spacingAndGlyphs" style="font-family:'Liberation Sans',sans-serif;font-kerning:none;" >RSI</text>
<text x="81.4" y="1071.0" fill="#08080a" font-size="23.5" font-weight="normal" text-anchor="start" textLength="40.1" lengthAdjust="spacingAndGlyphs" style="font-family:'Liberation Sans',sans-serif;font-kerning:none;" >(14,</text>
<text x="128.0" y="1071.0" fill="#08080a" font-size="23.5" font-weight="normal" text-anchor="start" textLength="69.4" lengthAdjust="spacingAndGlyphs" style="font-family:'Liberation Sans',sans-serif;font-kerning:none;" >close)</text>
<text x="211.3" y="1071.0" fill="#7e57c2" font-size="23.5" font-weight="normal" text-anchor="start" textLength="64.0" lengthAdjust="spacingAndGlyphs" style="font-family:'Liberation Sans',sans-serif;font-kerning:none;" >70.80</text>
<text x="289.4" y="1071.0" fill="#fdd835" font-size="23.5" font-weight="normal" text-anchor="start" textLength="65.3" lengthAdjust="spacingAndGlyphs" style="font-family:'Liberation Sans',sans-serif;font-kerning:none;" >52.68</text>
<rect x="20" y="54" width="2438" height="1514" fill="none" stroke="#f3f3f4" stroke-width="2"/>
<g fill="#131313">
<path d="M24.1,1612.2H47.8V1641.8H35.8V1624.2H24.1Z"/>
<circle cx="58" cy="1618.2" r="6"/>
<path d="M70.6,1612.2H83.8L71.9,1641.8H58Z"/>
</g>
<g transform="translate(90,1600) scale(0.111882)" fill="#131313" stroke="none">
<path d="M72,107.5H267V157.5H195.7V374H143.8V157.5H72Z"/>
<path d="M269.4,374V180H320.3V209.4Q335,183 381.9,180V228.4Q330,226 320.3,275V374Z"/>
<clipPath id="ca"><rect x="380" y="100" width="209.6" height="300"/></clipPath><clipPath id="cd"><rect x="610" y="100" width="211.6" height="300"/></clipPath><clipPath id="cg"><rect x="1150" y="100" width="207.9" height="300"/></clipPath>
<path clip-path="url(#ca)" fill-rule="evenodd" d="M387,276.5A104,103 0 1 0 595,276.5A104,103 0 1 0 387,276.5ZM439,277.8A52,56 0 1 1 543,277.8A52,56 0 1 1 439,277.8Z"/>
<path d="M537.7,180H589.6V374H537.7Z"/>
<path clip-path="url(#cd)" fill-rule="evenodd" d="M620.6,276.5A104,103 0 1 0 828.6,276.5A104,103 0 1 0 620.6,276.5ZM672.6,277.8A52,56 0 1 1 776.6,277.8A52,56 0 1 1 672.6,277.8Z"/>
<path d="M769.6,107.5H821.6V374H769.6Z"/>
<path d="M859.1,181H911.5V374H859.1Z"/><circle cx="885.5" cy="129" r="34.5"/>
<path d="M948.4,374V181H1000.1V182.2A85.6,90.2 0 0 1 1125.6,262V374H1073.2V262A36.5,45.9 0 0 0 1000.1,262V374Z"/>
<path clip-path="url(#cg)" fill-rule="evenodd" d="M1158.2,276.5A104,103 0 1 0 1366.2,276.5A104,103 0 1 0 1158.2,276.5ZM1208.7,276.5A53.5,53 0 1 1 1315.7,276.5A53.5,53 0 1 1 1208.7,276.5Z"/>
<path d="M1332.4,181V391A79.4,45.6 0 0 1 1180,409" fill="none" stroke="#131313" stroke-width="51"/>
<path d="M1350.8,108.5H1409.9L1491.9,290L1566.8,108.5H1625.9L1518.8,374H1467.1Z"/>
<path d="M1644.5,180H1697.4V374H1644.5Z"/><circle cx="1672" cy="128.5" r="34"/>
<path fill-rule="evenodd" d="M1733.1000000000001,275A98.6,104.5 0 1 0 1930.3,275A98.6,104.5 0 1 0 1733.1000000000001,275ZM1784.95,272A46.75,57.8 0 1 1 1878.45,272A46.75,57.8 0 1 1 1784.95,272Z"/>
<path d="M1770,249.5H1930V290.4H1770Z"/>
<path d="M1880,290.6H1945V352L1926.1,334.2L1889.5,303.5Z" fill="#fff"/>
<path d="M1930.3,180H1987.3L2023.9,302L2066.3,180H2102.8L2143.7,302L2178.8,180H2234.3L2170,374H2118.9L2083.8,271.4L2047.3,374H1996.1Z"/>
</g>
</svg></div></body></html>
